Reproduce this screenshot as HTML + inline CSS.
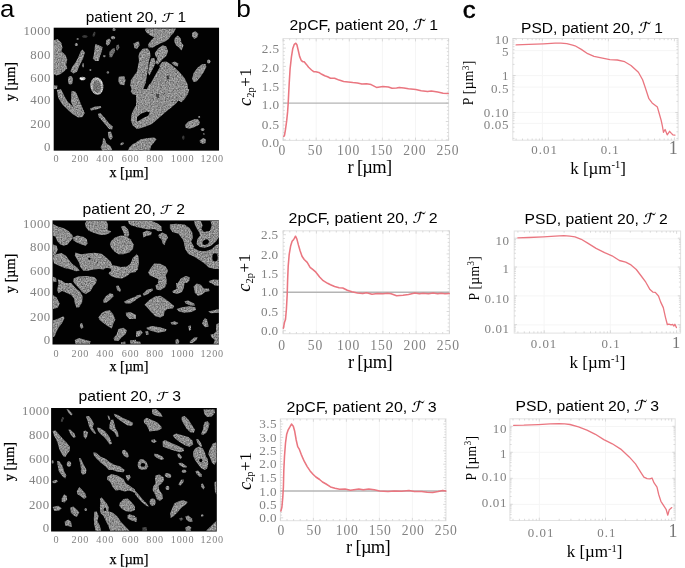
<!DOCTYPE html>
<html><head><meta charset="utf-8"><title>figure</title>
<style>html,body{margin:0;padding:0;background:#fff}svg{display:block}</style></head>
<body>
<svg width="685" height="568" viewBox="0 0 685 568">
<rect width="685" height="568" fill="#fff"/>
<text transform='translate(0.0,16.9) scale(1.1,1)' style='font-family:"Liberation Sans", Arial, sans-serif;font-size:23.5px;'>a</text>
<text transform='translate(236.3,17.4) scale(1.14,1)' style='font-family:"Liberation Sans", Arial, sans-serif;font-size:23.0px;'>b</text>
<text transform='translate(462.7,17.6) scale(1.06,1)' style='font-family:"Liberation Sans", Arial, sans-serif;font-size:24.2px;stroke:#000;stroke-width:0.55px;'>c</text>
<defs>
<filter id='sp' x='0' y='0' width='100%' height='100%' filterUnits='objectBoundingBox' color-interpolation-filters='sRGB'>
<feTurbulence type='fractalNoise' baseFrequency='0.75' numOctaves='2' seed='7' result='n'/>
<feColorMatrix in='n' type='matrix' values='1.0 1.0 0 0 -0.32  1.0 1.0 0 0 -0.32  1.0 1.0 0 0 -0.32  0 0 0 0 1' result='na'/>
<feGaussianBlur in='SourceGraphic' stdDeviation='0.6' result='b'/>
<feComposite in='b' in2='na' operator='arithmetic' k1='0.65' k2='0.35' k3='0' k4='0' result='c'/>
<feGaussianBlur in='c' stdDeviation='0.5'/>
</filter>
</defs>
<clipPath id='cl1'><rect x='53.7' y='27.7' width='165.35' height='122.95'/></clipPath>
<rect x='53.7' y='27.7' width='165.35' height='122.95' fill='#030303'/>
<g clip-path='url(#cl1)'><g filter='url(#sp)'><rect x='53.7' y='27.7' width='165.35' height='122.95' fill='#000' opacity='0.01'/>
<polygon points='54.0,40.3 57.6,39.1 61.3,42.8 62.5,47.6 61.3,51.2 65.5,54.9 67.3,59.7 66.1,64.6 67.3,68.2 63.7,71.8 60.1,74.3 56.4,75.5 54.0,74.3' fill='#b2b2b2'/><polygon points='82.5,49.4 84.9,52.4 83.1,58.5 79.4,65.8 77.0,71.8 73.4,73.6 70.4,71.2 72.2,67.0 75.8,62.1 78.8,56.1 80.7,51.2' fill='#b2b2b2'/><ellipse cx='76.4' cy='44.6' rx='1.5' ry='1.5' transform='rotate(0 76.4 44.6)' fill='#b2b2b2'/><ellipse cx='77.6' cy='39.1' rx='1.0' ry='1.0' transform='rotate(0 77.6 39.1)' fill='#b2b2b2'/><polygon points='95.2,44.0 98.8,45.2 102.5,47.0 101.9,51.2 100.0,56.1 98.8,60.9 95.2,60.9 92.8,58.5 94.0,53.7 94.6,48.8' fill='#b2b2b2'/><polygon points='106.1,40.3 109.1,38.5 110.9,40.3 109.7,44.0 107.3,45.8 105.9,44.0' fill='#b2b2b2'/><ellipse cx='113.0' cy='37.7' rx='2.2' ry='1.6' transform='rotate(0 113.0 37.7)' fill='#b2b2b2'/><polygon points='109.5,51.8 112.2,48.8 114.6,48.2 115.2,51.2 113.4,54.3 111.9,57.3 109.7,57.3 109.1,54.6' fill='#b2b2b2' opacity='0.8'/><polygon points='116.4,45.2 118.8,44.6 119.4,47.6 117.6,50.6 116.0,49.4' fill='#b2b2b2' opacity='0.7'/><ellipse cx='114.0' cy='29.4' rx='1.5' ry='1.5' transform='rotate(0 114.0 29.4)' fill='#b2b2b2'/><polygon points='133.4,43.4 137.0,42.1 137.0,48.8 134.6,48.2' fill='#b2b2b2'/><ellipse cx='70.4' cy='80.3' rx='2.4' ry='4.2' transform='rotate(0 70.4 80.3)' fill='#b2b2b2'/><ellipse cx='82.5' cy='78.5' rx='3.0' ry='1.8' transform='rotate(0 82.5 78.5)' fill='#fff'/><polygon points='118.8,76.7 124.3,76.1 125.5,80.3 124.3,85.2 120.0,84.6 118.2,80.9' fill='#b2b2b2'/><polygon points='137.0,71.8 134.0,75.5 130.9,80.3 130.3,85.2 131.5,89.0 137.0,89.0' fill='#b2b2b2'/><ellipse cx='104.3' cy='56.1' rx='1.2' ry='1.2' transform='rotate(0 104.3 56.1)' fill='#b2b2b2'/><ellipse cx='107.9' cy='72.4' rx='1.2' ry='1.2' transform='rotate(0 107.9 72.4)' fill='#b2b2b2'/><ellipse cx='90.4' cy='70.0' rx='1.0' ry='1.0' transform='rotate(0 90.4 70.0)' fill='#b2b2b2'/><ellipse cx='83.1' cy='65.2' rx='0.8' ry='2.2' transform='rotate(0 83.1 65.2)' fill='#b2b2b2'/><polygon points='54.0,85.2 57.6,85.8 57.0,89.0 54.0,89.0' fill='#b2b2b2'/><ellipse cx='84.9' cy='36.5' rx='2.7' ry='1.2' transform='rotate(0 84.9 36.5)' fill='#b2b2b2' opacity='0.45'/><ellipse cx='94.0' cy='34.3' rx='1.2' ry='2.7' transform='rotate(20 94.0 34.3)' fill='#b2b2b2' opacity='0.4'/><ellipse cx='96.9' cy='86.0' rx='6.5' ry='8.9' transform='rotate(-8 96.9 86.0)' fill='#e0e0e0'/><ellipse cx='96.9' cy='86.5' rx='4.1' ry='6.3' transform='rotate(-8 96.9 86.5)' fill='#909090'/><polygon points='145.7,28.5 176.0,28.5 173.6,33.1 171.1,35.5 168.7,39.1 165.1,41.5 160.2,43.4 156.6,45.2 153.0,47.6 148.7,47.6 148.1,44.6 151.1,40.3 154.2,37.3 150.5,35.5 146.9,33.1 145.1,30.6' fill='#b2b2b2'/><polygon points='136.0,42.1 139.0,41.5 139.6,45.2 137.2,48.8 136.0,48.8' fill='#b2b2b2'/><polygon points='139.6,52.4 142.7,48.8 147.5,48.2 149.9,51.2 150.5,56.1 148.7,62.1 148.1,68.2 146.9,75.5 145.7,82.7 143.3,89.0 136.0,89.0 137.2,80.3 136.6,73.0 137.8,67.0 139.0,60.9 138.4,56.1' fill='#b2b2b2'/><polygon points='154.8,53.1 158.4,48.2 162.7,45.2 166.3,46.4 168.1,51.2 166.3,56.1 162.7,59.1 159.6,62.7 156.6,65.8 155.4,63.4 157.2,58.5 155.4,56.1' fill='#b2b2b2'/><polygon points='151.1,58.5 154.2,57.9 155.6,62.1 154.2,67.0 151.8,71.8 149.3,75.5 148.1,73.0 148.7,67.0 149.9,62.1' fill='#b2b2b2'/><polygon points='162.1,62.1 166.3,61.5 171.1,64.6 176.0,68.8 180.8,73.6 184.5,77.9 187.5,83.9 188.1,89.0 146.9,89.0 149.3,83.9 153.0,77.9 155.4,73.0 158.4,67.0' fill='#b2b2b2'/><polygon points='171.4,62.7 174.8,61.5 178.4,63.4 177.8,66.4 174.8,65.8' fill='#b2b2b2'/><polygon points='174.8,37.9 177.8,35.5 180.8,38.5 181.4,42.8 183.5,45.2 182.6,48.2 181.4,50.6 179.0,47.6 176.0,45.2 174.2,41.5' fill='#b2b2b2'/><polygon points='192.3,32.5 195.4,31.2 198.4,33.7 197.2,37.3 194.2,38.9 192.0,36.1' fill='#b2b2b2'/><polygon points='193.6,73.0 197.8,67.6 202.0,64.3 205.7,64.0 206.3,67.0 203.9,71.8 200.2,77.3 196.6,81.5 193.6,82.1 192.0,79.1' fill='#b2b2b2'/><ellipse cx='208.7' cy='61.5' rx='1.7' ry='1.9' transform='rotate(0 208.7 61.5)' fill='#b2b2b2'/><polygon points='136.0,89.0 189.3,89.0 188.1,93.8 184.5,99.3 181.4,102.3 178.4,100.5 176.0,103.5 171.1,107.8 166.3,111.4 161.4,115.7 156.6,119.9 151.8,124.1 145.7,126.6 139.6,128.4 136.0,129.0' fill='#b2b2b2'/><polygon points='136.0,118.1 140.8,113.8 146.9,111.4 149.9,112.6 148.1,115.7 143.3,118.1 138.4,121.1 136.0,122.3' fill='#000'/><polygon points='185.1,124.7 188.1,121.7 194.2,119.3 197.8,119.0 200.0,122.3 199.0,124.7 194.2,127.2 189.3,128.7 185.7,127.8' fill='#b2b2b2'/><ellipse cx='199.2' cy='117.1' rx='1.0' ry='1.0' transform='rotate(0 199.2 117.1)' fill='#b2b2b2'/><ellipse cx='202.6' cy='129.6' rx='1.8' ry='1.5' transform='rotate(0 202.6 129.6)' fill='#b2b2b2'/><ellipse cx='203.9' cy='134.1' rx='1.0' ry='1.0' transform='rotate(0 203.9 134.1)' fill='#b2b2b2' opacity='0.6'/><polygon points='199.6,140.5 203.2,138.1 206.0,139.3 205.7,142.9 202.6,144.1 200.0,142.3' fill='#b2b2b2'/><ellipse cx='183.3' cy='137.7' rx='1.2' ry='2.1' transform='rotate(0 183.3 137.7)' fill='#b2b2b2' opacity='0.4'/><polygon points='136.0,142.3 140.8,139.3 148.1,138.1 154.2,137.5 156.6,139.3 154.2,142.3 151.1,145.9 149.9,150.7 136.0,150.7' fill='#b2b2b2'/><polygon points='58.2,90.8 61.3,90.2 63.1,93.8 62.5,97.5 60.7,95.7 58.8,93.2' fill='#b2b2b2'/><polygon points='60.7,97.5 64.3,98.7 69.1,102.9 72.8,106.6 78.2,111.4 84.0,113.6 82.8,116.9 78.2,117.5 72.8,114.2 68.3,110.2 64.7,106.0 61.5,101.7' fill='#b2b2b2'/><polygon points='71.6,90.8 75.6,91.7 77.6,98.7 79.7,103.5 82.5,108.4 84.3,113.0 80.7,112.6 76.4,107.8 73.1,102.6 71.6,96.3' fill='#b2b2b2'/><polygon points='90.1,108.4 95.2,106.6 100.6,106.0 101.3,107.8 96.4,109.6 91.0,110.6' fill='#b2b2b2'/><polygon points='97.9,113.8 100.6,113.2 104.9,118.1 109.1,123.5 112.8,126.6 112.2,129.6 109.1,129.0 105.5,124.7 101.9,120.5 98.8,116.9' fill='#b2b2b2'/><polygon points='107.9,132.0 110.9,131.4 112.8,136.9 110.9,139.9 108.5,137.5' fill='#b2b2b2'/><polygon points='103.1,138.1 104.9,138.7 106.1,142.9 110.3,145.9 112.2,149.6 110.9,151.0 102.5,151.0 100.6,147.2 102.5,143.5' fill='#b2b2b2'/><polygon points='137.0,104.1 134.0,108.4 131.5,114.4 130.9,120.5 132.8,125.4 137.0,129.0' fill='#b2b2b2'/><polygon points='131.5,89.0 137.0,89.0 137.0,95.1 132.8,94.5 130.9,91.4' fill='#b2b2b2'/><polygon points='137.0,142.3 132.8,144.1 129.1,147.8 127.9,151.0 137.0,151.0' fill='#b2b2b2'/><ellipse cx='122.1' cy='143.8' rx='1.9' ry='1.2' transform='rotate(-30 122.1 143.8)' fill='#b2b2b2'/><polygon points='155.9,63.2 160.1,66.8 155.2,75.2 150.3,83.7 146.8,85.8 148.2,79.4 151.7,71.0' fill='#000'/><polygon points='166.5,75.9 168.6,75.2 169.3,78.7 167.2,79.4' fill='#000' opacity='0.6'/><polygon points='155.9,94.2 158.7,93.5 159.4,97.7 156.9,98.5' fill='#000' opacity='0.5'/><polygon points='71.6,92.1 76.5,93.2 80.1,102.0 84.7,113.2 81.5,116.8 75.1,110.4 70.9,102.0' fill='#b2b2b2'/><polygon points='56.8,90.0 61.0,89.3 65.3,97.7 70.2,106.2 68.1,109.7 62.5,104.8 58.2,97.7' fill='#b2b2b2'/>
</g></g>
<text x='85.7' y='21.6' textLength='100.3' lengthAdjust='spacingAndGlyphs' style='font-family:"Liberation Sans", Arial, sans-serif;font-size:14.3px'>patient 20, <tspan style='font-family:"STIX Two Math", "Latin Modern Math", "DejaVu Math TeX Gyre", "Libertinus Math", "Noto Sans Math", "FreeSerif", "DejaVu Serif", "Liberation Serif", serif;font-size:14.6px'>𝒯</tspan> 1</text>
<text x='51.00' y='34.80' text-anchor='end' fill='#828282' style='font-family:"Liberation Serif", "DejaVu Serif", serif;font-size:12.8px;letter-spacing:0.5px;' >1000</text>
<text x='51.00' y='58.70' text-anchor='end' fill='#828282' style='font-family:"Liberation Serif", "DejaVu Serif", serif;font-size:12.8px;letter-spacing:0.5px;' >800</text>
<text x='51.00' y='82.20' text-anchor='end' fill='#828282' style='font-family:"Liberation Serif", "DejaVu Serif", serif;font-size:12.8px;letter-spacing:0.5px;' >600</text>
<text x='51.00' y='103.60' text-anchor='end' fill='#828282' style='font-family:"Liberation Serif", "DejaVu Serif", serif;font-size:12.8px;letter-spacing:0.5px;' >400</text>
<text x='51.00' y='128.30' text-anchor='end' fill='#828282' style='font-family:"Liberation Serif", "DejaVu Serif", serif;font-size:12.8px;letter-spacing:0.5px;' >200</text>
<text x='51.00' y='151.20' text-anchor='end' fill='#828282' style='font-family:"Liberation Serif", "DejaVu Serif", serif;font-size:12.8px;letter-spacing:0.5px;' >0</text>
<text x='56.50' y='162.40' text-anchor='middle' fill='#828282' style='font-family:"Liberation Serif", "DejaVu Serif", serif;font-size:10.2px;letter-spacing:0.8px;' >0</text>
<text x='80.40' y='162.40' text-anchor='middle' fill='#828282' style='font-family:"Liberation Serif", "DejaVu Serif", serif;font-size:10.2px;letter-spacing:0.8px;' >200</text>
<text x='105.20' y='162.40' text-anchor='middle' fill='#828282' style='font-family:"Liberation Serif", "DejaVu Serif", serif;font-size:10.2px;letter-spacing:0.8px;' >400</text>
<text x='130.60' y='162.40' text-anchor='middle' fill='#828282' style='font-family:"Liberation Serif", "DejaVu Serif", serif;font-size:10.2px;letter-spacing:0.8px;' >600</text>
<text x='155.10' y='162.40' text-anchor='middle' fill='#828282' style='font-family:"Liberation Serif", "DejaVu Serif", serif;font-size:10.2px;letter-spacing:0.8px;' >800</text>
<text x='182.60' y='162.40' text-anchor='middle' fill='#828282' style='font-family:"Liberation Serif", "DejaVu Serif", serif;font-size:10.2px;letter-spacing:0.8px;' >1000</text>
<text x='212.20' y='162.40' text-anchor='middle' fill='#828282' style='font-family:"Liberation Serif", "DejaVu Serif", serif;font-size:10.2px;letter-spacing:0.8px;' >1200</text>
<text x='129.00' y='176.60' text-anchor='middle' fill='#000' style='font-family:"Liberation Serif", "DejaVu Serif", serif;font-size:14.1px;' stroke='#000' stroke-width='0.25'>x [µm]</text>
<text transform='translate(15.100000000000001,81.6) rotate(-90)' text-anchor='middle' style='font-family:"Liberation Serif", "DejaVu Serif", serif;font-size:14.1px' stroke='#000' stroke-width='0.25'>y [µm]</text>
<clipPath id='cl2'><rect x='52.5' y='220.4' width='166.40' height='124.10'/></clipPath>
<rect x='52.5' y='220.4' width='166.40' height='124.10' fill='#030303'/>
<g clip-path='url(#cl2)'><g filter='url(#sp)'><rect x='52.5' y='220.4' width='166.40' height='124.10' fill='#000' opacity='0.01'/>
<polygon points='53.0,224.0 57.8,226.5 63.9,228.3 68.8,231.3 72.4,234.9 73.0,238.0 70.0,241.6 67.5,244.6 63.9,245.8 60.3,244.6 57.2,241.0 55.4,236.8 53.0,235.5' fill='#b2b2b2'/><polygon points='73.0,237.4 77.2,235.5 83.3,236.8 86.9,239.2 87.5,243.4 85.7,245.8 81.5,244.6 77.2,242.8 73.6,240.4' fill='#b2b2b2'/><polygon points='86.3,221.0 106.3,221.0 108.1,224.6 107.5,230.1 111.2,231.3 109.9,233.1 105.1,234.9 100.3,234.9 94.2,233.1 88.7,230.7 85.7,227.1 85.1,223.4' fill='#b2b2b2'/><polygon points='111.2,241.0 114.8,237.4 120.9,235.5 125.7,236.1 130.5,239.2 133.6,244.6 133.0,248.9 129.3,252.5 123.3,254.3 118.4,254.3 114.2,251.3 111.2,247.7 109.9,244.0' fill='#b2b2b2'/><polygon points='120.9,226.5 124.5,225.8 128.1,229.5 129.3,234.3 128.1,236.8 124.5,236.1 123.3,231.9' fill='#b2b2b2'/><polygon points='128.1,221.0 136.0,221.0 136.0,226.5 131.8,225.8 128.7,223.4' fill='#b2b2b2'/><polygon points='53.0,244.6 56.6,245.8 57.8,249.5 56.0,253.7 53.0,255.5' fill='#b2b2b2'/><polygon points='55.4,254.3 61.5,253.1 66.3,256.1 68.8,259.8 72.4,264.0 77.2,267.6 79.7,270.7 76.0,271.3 71.2,269.5 65.1,268.3 59.1,265.8 54.2,263.4 53.0,259.8 53.0,256.1' fill='#b2b2b2'/><polygon points='75.4,252.5 80.9,254.3 86.9,253.5 94.2,252.7 101.5,253.7 106.3,257.4 110.6,261.6 112.4,265.2 116.0,265.8 120.9,267.0 126.9,266.4 130.5,263.4 133.0,257.4 136.0,254.9 136.0,271.9 130.5,273.1 126.9,276.1 122.1,278.6 116.0,277.9 111.2,276.1 108.7,273.7 109.9,270.1 106.3,268.3 103.9,269.5 99.0,268.9 93.0,269.5 88.1,270.7 83.3,270.7 80.3,267.0 79.1,262.8 76.6,258.6 74.8,255.5' fill='#b2b2b2'/><ellipse cx='107.5' cy='270.1' rx='3.6' ry='2.2' transform='rotate(0 107.5 270.1)' fill='#000'/><ellipse cx='89.4' cy='258.8' rx='1.2' ry='1.0' transform='rotate(0 89.4 258.8)' fill='#000'/><polygon points='73.6,278.6 78.4,276.5 86.9,276.1 94.2,277.0 96.9,279.8 96.0,283.0 74.2,283.0 73.0,281.0' fill='#b2b2b2'/><polygon points='57.8,279.2 61.5,280.4 65.1,283.0 58.5,283.0' fill='#b2b2b2'/><polygon points='53.0,276.7 56.0,277.9 56.6,281.6 53.0,282.2' fill='#b2b2b2'/><polygon points='136.0,221.0 151.8,221.0 157.8,223.4 161.4,226.5 162.1,230.7 158.4,231.3 154.2,228.9 148.1,229.5 142.1,228.3 136.0,227.1' fill='#b2b2b2'/><polygon points='142.7,232.5 146.9,230.5 151.8,231.9 151.1,234.9 146.3,236.1 143.3,237.4' fill='#b2b2b2'/><polygon points='158.4,234.9 162.1,232.5 166.3,234.3 168.1,237.4 165.7,241.6 164.5,245.2 162.7,243.4 161.4,239.2 159.0,237.4' fill='#b2b2b2'/><polygon points='169.9,224.6 176.0,223.7 184.5,224.6 189.3,227.7 192.3,232.5 192.9,238.0 191.1,241.6 188.1,245.2 185.1,245.2 182.6,239.2 178.4,233.7 172.4,231.9 169.9,228.3' fill='#b2b2b2'/><polygon points='194.2,221.0 200.8,221.0 202.6,225.2 201.4,228.9 203.9,231.9 209.9,230.7 211.7,225.8 210.5,221.0 219.0,221.0 219.0,236.8 216.0,241.6 211.1,245.8 205.1,247.7 199.6,247.1 196.6,244.0 197.2,239.2 200.2,235.5 199.0,231.9 196.6,228.3 194.8,224.6' fill='#b2b2b2'/><polygon points='183.9,242.8 191.1,241.6 194.2,247.1 189.3,250.7 185.4,250.1' fill='#b2b2b2'/><ellipse cx='205.7' cy='242.2' rx='3.4' ry='2.4' transform='rotate(-30 205.7 242.2)' fill='#000'/><polygon points='185.7,249.5 189.3,247.1 194.2,248.3 199.0,250.7 205.1,251.3 211.1,249.5 216.0,245.2 219.0,244.0 219.0,268.9 214.8,268.9 208.7,267.6 205.1,264.0 200.2,260.4 194.2,256.7 188.1,253.7' fill='#b2b2b2'/><ellipse cx='215.0' cy='257.4' rx='2.7' ry='4.1' transform='rotate(0 215.0 257.4)' fill='#000'/><polygon points='136.0,253.7 138.4,256.1 139.0,262.2 137.8,269.5 136.0,271.3' fill='#b2b2b2'/><polygon points='154.2,263.4 160.2,263.7 165.7,266.4 168.1,270.7 165.7,275.5 166.9,280.4 166.3,283.0 157.8,283.0 158.4,279.2 154.2,277.3 149.9,275.5 148.1,272.5 150.5,268.3' fill='#b2b2b2'/><polygon points='177.8,283.0 180.8,278.6 185.7,276.1 189.9,277.3 189.3,280.4 186.9,283.0' fill='#b2b2b2'/><polygon points='208.7,281.0 213.5,279.4 219.0,279.8 219.0,283.0 209.9,283.0' fill='#b2b2b2'/><polygon points='58.5,283.0 71.2,283.0 75.4,287.8 80.3,292.1 82.7,296.3 82.1,302.4 79.1,307.2 76.6,307.8 74.8,303.6 74.2,298.8 71.2,295.1 66.3,292.7 62.1,290.9 58.5,293.3 57.2,290.3' fill='#b2b2b2'/><polygon points='74.2,283.0 96.0,283.0 93.0,286.6 90.6,290.9 85.7,293.9 82.1,292.1 79.1,288.5' fill='#b2b2b2'/><polygon points='53.0,295.1 56.6,297.5 59.7,303.6 57.8,307.8 53.0,309.1' fill='#b2b2b2'/><polygon points='53.0,320.6 57.8,318.7 63.3,316.3 64.5,318.1 62.1,323.0 58.5,327.8 56.0,332.7 54.8,336.3 53.0,336.9' fill='#b2b2b2'/><polygon points='80.3,323.6 82.1,323.0 83.5,327.2 81.5,329.0 79.9,326.6' fill='#b2b2b2'/><polygon points='103.3,300.0 105.7,296.3 109.9,293.3 113.0,293.9 113.6,296.3 109.9,300.0 105.7,303.0 103.3,302.4' fill='#b2b2b2'/><polygon points='116.0,286.0 118.4,285.4 120.9,289.7 120.2,292.1 117.2,290.3' fill='#b2b2b2'/><polygon points='123.9,301.8 128.1,299.4 136.0,296.3 136.0,300.0 130.5,303.6 125.7,303.4' fill='#b2b2b2'/><polygon points='98.4,317.5 101.5,313.3 105.1,310.9 109.9,310.3 113.0,313.9 115.4,319.4 113.6,323.0 111.8,328.4 107.5,326.0 102.7,322.4 99.6,320.0' fill='#b2b2b2'/><polygon points='125.7,312.7 130.5,312.1 136.0,315.1 136.0,318.7 129.3,319.1 126.3,315.7' fill='#b2b2b2'/><polygon points='118.4,329.0 123.3,327.8 126.9,330.3 125.7,333.9 121.5,337.5 118.4,340.9 114.2,340.6 113.6,338.1 116.6,334.5' fill='#b2b2b2'/><polygon points='74.8,339.9 79.1,338.1 85.7,339.9 90.6,341.2 90.0,343.7 75.4,343.7' fill='#b2b2b2'/><polygon points='129.9,340.6 136.0,339.7 136.0,343.7 130.5,343.7' fill='#b2b2b2'/><polygon points='120.9,342.4 125.1,341.5 125.7,343.7 121.1,343.7' fill='#b2b2b2'/><polygon points='136.0,295.7 140.2,294.5 141.5,296.3 136.0,299.4' fill='#b2b2b2'/><polygon points='142.7,293.9 146.9,289.7 152.4,288.5 153.0,290.3 148.1,293.9 143.9,295.7' fill='#b2b2b2'/><polygon points='155.4,285.4 159.0,283.0 166.9,283.0 165.1,287.2 160.2,290.3 156.6,289.7' fill='#b2b2b2'/><polygon points='176.0,283.0 184.5,283.0 183.9,287.8 182.0,292.1 177.2,293.9 173.0,292.7 172.4,290.9 176.6,289.1' fill='#b2b2b2'/><polygon points='193.6,286.6 196.6,283.6 200.8,284.8 203.9,288.5 208.7,288.5 209.9,290.9 205.1,292.1 201.4,295.1 197.8,295.7 194.8,292.7' fill='#b2b2b2'/><polygon points='211.1,283.0 219.0,283.0 219.0,286.0 214.8,285.4' fill='#b2b2b2'/><polygon points='144.5,304.8 149.3,300.0 155.4,296.3 160.2,295.7 165.1,298.8 169.9,302.4 174.2,306.0 173.0,308.4 167.5,309.1 164.5,311.5 163.9,315.7 160.2,317.5 155.4,316.3 151.8,312.7 148.1,308.4' fill='#b2b2b2'/><polygon points='184.5,301.2 188.1,300.6 194.2,303.6 194.8,305.8 190.5,305.4 185.7,303.6' fill='#b2b2b2'/><polygon points='176.6,309.1 182.0,307.2 189.3,306.3 195.4,307.2 196.0,309.7 191.7,312.1 184.5,312.7 179.0,311.5' fill='#b2b2b2'/><polygon points='208.1,311.5 213.5,310.3 219.0,309.1 219.0,312.7 211.1,313.3' fill='#b2b2b2'/><polygon points='170.5,322.4 174.8,321.2 178.4,323.0 176.0,324.8 171.7,324.4' fill='#b2b2b2'/><polygon points='205.1,318.1 206.9,319.4 208.7,326.6 205.1,327.2 202.0,323.6 203.2,320.6' fill='#b2b2b2'/><polygon points='146.3,327.8 151.8,326.0 160.2,327.2 166.9,329.6 165.1,331.5 157.8,332.7 151.8,330.9 147.5,329.6' fill='#b2b2b2'/><polygon points='136.0,331.5 140.8,330.3 142.7,332.7 139.6,336.3 136.0,336.9' fill='#b2b2b2'/><polygon points='145.1,331.5 148.1,330.9 148.7,334.5 146.3,335.1' fill='#b2b2b2'/><polygon points='188.3,326.0 190.8,325.4 191.1,329.6 189.1,330.9' fill='#b2b2b2'/><polygon points='189.9,341.2 194.2,337.5 197.6,337.3 196.6,339.9 192.3,343.0 189.9,343.0' fill='#b2b2b2'/><polygon points='175.4,339.9 177.8,338.7 179.4,341.2 178.4,343.7 175.7,343.7' fill='#b2b2b2'/><polygon points='216.0,324.2 219.0,323.0 219.0,343.7 213.5,343.7 214.8,339.9 211.7,337.5 210.5,334.5 213.5,333.9 216.0,331.5' fill='#b2b2b2'/><polygon points='136.0,341.2 140.2,341.8 140.8,343.7 136.0,343.7' fill='#b2b2b2'/>
</g></g>
<text x='82.6' y='213.9' textLength='102.3' lengthAdjust='spacingAndGlyphs' style='font-family:"Liberation Sans", Arial, sans-serif;font-size:14.3px'>patient 20, <tspan style='font-family:"STIX Two Math", "Latin Modern Math", "DejaVu Math TeX Gyre", "Libertinus Math", "Noto Sans Math", "FreeSerif", "DejaVu Serif", "Liberation Serif", serif;font-size:14.6px'>𝒯</tspan> 2</text>
<text x='50.70' y='227.50' text-anchor='end' fill='#828282' style='font-family:"Liberation Serif", "DejaVu Serif", serif;font-size:12.8px;letter-spacing:0.5px;' >1000</text>
<text x='50.70' y='251.40' text-anchor='end' fill='#828282' style='font-family:"Liberation Serif", "DejaVu Serif", serif;font-size:12.8px;letter-spacing:0.5px;' >800</text>
<text x='50.70' y='274.90' text-anchor='end' fill='#828282' style='font-family:"Liberation Serif", "DejaVu Serif", serif;font-size:12.8px;letter-spacing:0.5px;' >600</text>
<text x='50.70' y='296.30' text-anchor='end' fill='#828282' style='font-family:"Liberation Serif", "DejaVu Serif", serif;font-size:12.8px;letter-spacing:0.5px;' >400</text>
<text x='50.70' y='321.00' text-anchor='end' fill='#828282' style='font-family:"Liberation Serif", "DejaVu Serif", serif;font-size:12.8px;letter-spacing:0.5px;' >200</text>
<text x='50.70' y='343.90' text-anchor='end' fill='#828282' style='font-family:"Liberation Serif", "DejaVu Serif", serif;font-size:12.8px;letter-spacing:0.5px;' >0</text>
<text x='56.50' y='356.50' text-anchor='middle' fill='#828282' style='font-family:"Liberation Serif", "DejaVu Serif", serif;font-size:10.2px;letter-spacing:0.8px;' >0</text>
<text x='80.40' y='356.50' text-anchor='middle' fill='#828282' style='font-family:"Liberation Serif", "DejaVu Serif", serif;font-size:10.2px;letter-spacing:0.8px;' >200</text>
<text x='105.20' y='356.50' text-anchor='middle' fill='#828282' style='font-family:"Liberation Serif", "DejaVu Serif", serif;font-size:10.2px;letter-spacing:0.8px;' >400</text>
<text x='130.60' y='356.50' text-anchor='middle' fill='#828282' style='font-family:"Liberation Serif", "DejaVu Serif", serif;font-size:10.2px;letter-spacing:0.8px;' >600</text>
<text x='155.10' y='356.50' text-anchor='middle' fill='#828282' style='font-family:"Liberation Serif", "DejaVu Serif", serif;font-size:10.2px;letter-spacing:0.8px;' >800</text>
<text x='182.60' y='356.50' text-anchor='middle' fill='#828282' style='font-family:"Liberation Serif", "DejaVu Serif", serif;font-size:10.2px;letter-spacing:0.8px;' >1000</text>
<text x='212.20' y='356.50' text-anchor='middle' fill='#828282' style='font-family:"Liberation Serif", "DejaVu Serif", serif;font-size:10.2px;letter-spacing:0.8px;' >1200</text>
<text x='129.00' y='370.70' text-anchor='middle' fill='#000' style='font-family:"Liberation Serif", "DejaVu Serif", serif;font-size:14.1px;' stroke='#000' stroke-width='0.25'>x [µm]</text>
<text transform='translate(15.100000000000001,273.4) rotate(-90)' text-anchor='middle' style='font-family:"Liberation Serif", "DejaVu Serif", serif;font-size:14.1px' stroke='#000' stroke-width='0.25'>y [µm]</text>
<clipPath id='cl3'><rect x='51.1' y='408.0' width='165.70' height='123.50'/></clipPath>
<rect x='51.1' y='408.0' width='165.70' height='123.50' fill='#030303'/>
<g clip-path='url(#cl3)'><g filter='url(#sp)'><rect x='51.1' y='408.0' width='165.70' height='123.50' fill='#000' opacity='0.01'/>
<polygon points='66.5,409.2 68.4,409.5 72.6,414.1 71.4,415.5 69.0,413.5' fill='#b2b2b2'/><polygon points='62.3,417.1 64.1,417.7 62.3,421.9 60.7,421.3' fill='#b2b2b2' opacity='0.5'/><polygon points='52.6,431.0 55.6,430.4 58.7,434.1 62.3,438.3 66.5,442.5 69.9,446.8 69.6,451.0 67.1,454.0 65.3,457.1 63.5,456.5 61.1,452.8 59.3,449.2 58.1,444.4 56.2,439.5 53.8,435.3' fill='#b2b2b2'/><polygon points='68.4,429.8 70.2,429.6 74.4,433.4 75.6,437.1 73.8,438.0 70.8,434.7' fill='#b2b2b2'/><polygon points='83.3,431.6 85.3,430.4 88.1,432.2 87.1,436.5 85.7,438.9 83.7,436.5' fill='#b2b2b2'/><polygon points='85.9,416.5 89.0,415.9 92.0,420.1 93.8,423.8 92.6,427.4 94.4,430.4 96.2,433.4 94.4,433.7 91.4,430.4 89.0,426.2 87.7,421.3' fill='#b2b2b2'/><polygon points='97.1,427.4 99.9,428.0 105.3,431.6 108.9,435.9 110.8,440.1 112.0,443.7 109.6,444.4 107.1,440.7 104.1,437.1 100.5,434.1 98.0,431.0' fill='#b2b2b2'/><polygon points='107.5,415.5 109.2,415.9 110.4,419.5 108.9,420.1' fill='#b2b2b2'/><polygon points='110.8,420.1 113.2,419.5 114.4,423.8 115.6,428.6 118.0,432.2 118.6,436.8 116.8,437.1 114.4,432.2 112.0,430.4 109.2,428.6 109.6,424.4' fill='#b2b2b2'/><polygon points='113.8,413.8 117.4,414.7 123.5,418.3 129.5,420.7 133.2,423.1 132.0,425.9 127.7,425.6 122.9,422.5 118.0,418.9 115.0,416.5' fill='#b2b2b2'/><polygon points='122.3,450.4 124.7,449.8 127.7,452.8 128.9,456.5 127.1,457.7 124.1,455.9 122.0,452.8' fill='#b2b2b2'/><polygon points='93.2,452.6 96.2,452.8 100.5,456.5 105.9,458.9 110.2,462.5 115.0,464.9 119.9,466.2 124.7,470.0 108.9,470.0 105.3,466.2 100.5,462.5 96.8,458.9 93.8,455.3' fill='#b2b2b2'/><polygon points='78.9,457.9 80.8,458.3 82.9,463.1 85.3,467.4 86.5,470.0 81.1,470.0 80.5,464.9' fill='#b2b2b2'/><polygon points='57.1,461.1 59.3,461.3 62.3,465.6 63.9,470.0 58.7,470.0 57.5,464.9' fill='#b2b2b2'/><ellipse cx='69.0' cy='464.0' rx='2.2' ry='2.7' transform='rotate(0 69.0 464.0)' fill='#b2b2b2'/><ellipse cx='52.6' cy='461.9' rx='1.0' ry='1.7' transform='rotate(0 52.6 461.9)' fill='#b2b2b2'/><polygon points='152.0,409.2 156.2,409.0 161.1,413.5 162.6,416.7 159.8,416.5 155.0,415.5 152.0,413.5' fill='#b2b2b2'/><polygon points='143.7,420.1 146.5,417.7 152.0,420.1 157.4,422.5 161.1,426.2 161.9,428.6 158.0,430.4 153.2,431.0 149.5,431.6 148.3,428.6 146.5,425.0 144.1,423.1' fill='#b2b2b2'/><polygon points='181.6,417.1 184.7,415.9 188.3,419.5 191.9,425.0 195.0,429.8 193.8,432.8 190.1,432.2 186.5,428.6 183.5,423.8 181.6,420.1' fill='#b2b2b2'/><polygon points='203.5,409.5 214.4,409.2 215.0,412.8 211.9,416.5 207.1,417.1 204.3,414.1' fill='#b2b2b2'/><polygon points='204.7,421.9 207.7,421.3 209.5,423.8 208.3,428.6 206.5,432.8 202.9,434.9 201.0,434.1 202.9,429.8 203.5,425.6' fill='#b2b2b2'/><polygon points='172.8,435.3 176.2,433.4 182.3,435.3 188.3,437.1 192.6,440.7 193.2,444.4 189.5,446.8 185.3,445.6 180.4,442.5 176.2,439.5 173.8,437.1' fill='#b2b2b2'/><polygon points='162.6,441.3 165.3,440.1 171.4,443.1 177.4,445.6 183.5,448.6 184.1,451.0 179.8,452.2 173.8,450.4 167.7,448.6 162.9,446.8' fill='#b2b2b2'/><polygon points='151.0,440.1 154.4,439.3 156.8,441.3 154.4,442.9 151.7,441.9' fill='#b2b2b2'/><polygon points='154.1,453.8 157.4,454.0 162.3,456.5 164.1,458.9 161.1,459.9 156.8,457.7 154.4,455.9' fill='#b2b2b2'/><polygon points='177.2,454.0 179.2,453.4 182.0,457.1 180.8,458.9 178.0,457.1' fill='#b2b2b2'/><polygon points='178.4,463.1 181.6,462.8 186.5,465.9 186.9,467.6 183.5,467.4 179.8,465.6' fill='#b2b2b2'/><polygon points='138.0,462.5 139.8,459.5 142.9,458.9 146.5,461.9 148.1,466.2 146.5,469.2 142.3,470.0 138.6,468.6 137.7,465.6' fill='#b2b2b2'/><ellipse cx='142.9' cy='464.9' rx='2.4' ry='1.9' transform='rotate(0 142.9 464.9)' fill='#000'/><polygon points='196.2,439.3 198.0,438.9 201.0,443.1 202.2,446.5 200.4,446.8 197.4,443.1' fill='#b2b2b2'/><polygon points='193.2,451.6 195.6,448.0 199.2,446.5 202.9,448.6 205.0,452.8 205.9,456.5 207.7,458.9 208.3,463.7 207.1,468.6 204.7,470.0 201.0,468.0 198.0,464.3 195.0,460.1 193.2,455.9' fill='#b2b2b2'/><ellipse cx='200.8' cy='460.3' rx='1.5' ry='1.9' transform='rotate(0 200.8 460.3)' fill='#000'/><polygon points='212.5,443.7 215.6,442.5 216.5,443.1 216.5,461.3 214.4,464.9 211.9,462.5 210.1,457.7 208.3,454.0 209.5,449.8 211.3,446.8' fill='#b2b2b2'/><polygon points='58.3,470.0 63.5,470.0 66.3,475.5 65.3,478.5 62.9,476.7 59.9,473.0' fill='#b2b2b2'/><polygon points='80.8,470.0 86.5,470.0 85.9,473.6 82.9,474.8 81.1,473.0' fill='#b2b2b2'/><polygon points='52.6,480.9 56.2,479.7 58.1,481.5 55.0,483.3 52.6,483.1' fill='#b2b2b2'/><polygon points='76.8,491.2 79.3,487.0 82.3,490.0 85.3,493.6 86.5,497.3 84.1,499.1 80.5,496.1 77.4,494.2' fill='#b2b2b2'/><polygon points='61.7,498.5 64.1,494.2 66.8,496.1 67.1,499.7 64.7,502.5 61.7,501.7' fill='#b2b2b2'/><polygon points='52.6,507.0 58.1,505.7 61.7,508.2 59.3,510.6 54.4,511.0' fill='#b2b2b2'/><polygon points='70.4,507.6 73.2,506.4 76.8,509.4 79.3,512.4 76.8,517.0 73.8,515.4 70.8,512.4' fill='#b2b2b2'/><polygon points='64.7,521.5 68.4,519.4 71.1,522.1 72.0,526.9 69.0,526.3 65.1,525.7' fill='#b2b2b2'/><ellipse cx='85.7' cy='509.5' rx='1.2' ry='1.5' transform='rotate(0 85.7 509.5)' fill='#b2b2b2'/><polygon points='107.1,476.7 111.4,473.9 117.4,475.5 123.5,479.1 125.9,483.3 130.8,486.4 135.0,489.4 135.0,493.0 129.5,490.6 124.7,491.6 119.9,490.0 115.6,490.6 112.6,487.0 110.2,482.1 107.1,479.7' fill='#b2b2b2'/><polygon points='112.6,470.0 124.7,470.0 123.5,472.2 117.4,471.8' fill='#b2b2b2'/><polygon points='125.7,475.5 129.5,474.8 130.8,477.3 128.1,480.9 126.5,478.5' fill='#b2b2b2'/><polygon points='119.9,502.7 123.5,499.1 127.7,498.5 131.4,502.1 135.0,506.4 135.0,510.0 130.8,511.8 125.9,511.2 121.7,508.8 119.2,505.7' fill='#b2b2b2'/><polygon points='127.4,515.4 129.5,514.2 135.0,516.0 135.0,521.5 130.8,520.3 127.7,518.5' fill='#b2b2b2'/><polygon points='99.9,498.5 101.7,497.6 104.1,500.3 107.1,503.9 108.9,507.6 108.3,511.2 112.6,512.4 117.4,516.6 121.1,522.1 125.9,526.9 129.5,530.8 110.2,530.8 108.3,525.7 105.9,520.9 103.5,516.0 100.5,513.0 99.9,507.6 100.5,502.7' fill='#b2b2b2'/><ellipse cx='105.0' cy='509.4' rx='1.2' ry='1.7' transform='rotate(0 105.0 509.4)' fill='#000'/><polygon points='94.4,511.8 96.8,511.4 98.6,516.0 97.4,520.9 99.9,525.7 101.1,530.8 95.6,530.8 94.2,524.5 93.8,518.5' fill='#b2b2b2'/><polygon points='135.0,490.6 137.4,493.0 142.3,499.1 147.1,503.9 148.9,506.4 146.5,506.1 141.7,502.1 137.4,497.3 135.0,494.2' fill='#b2b2b2'/><polygon points='155.6,475.5 159.2,474.6 163.5,477.3 164.1,480.3 161.1,483.9 158.6,485.8 159.2,490.0 162.3,494.2 162.9,498.5 159.8,500.9 156.8,499.1 155.0,494.2 152.6,490.0 153.2,486.4 155.6,483.3 155.0,479.1' fill='#b2b2b2'/><ellipse cx='168.0' cy='475.5' rx='3.3' ry='2.2' transform='rotate(20 168.0 475.5)' fill='#b2b2b2'/><ellipse cx='167.5' cy='487.9' rx='1.9' ry='2.2' transform='rotate(0 167.5 487.9)' fill='#b2b2b2'/><ellipse cx='152.6' cy='502.1' rx='3.0' ry='3.6' transform='rotate(0 152.6 502.1)' fill='#b2b2b2'/><polygon points='178.4,484.5 181.0,479.7 183.7,479.5 183.5,482.1 180.4,485.8' fill='#b2b2b2'/><ellipse cx='184.1' cy='471.2' rx='2.2' ry='1.7' transform='rotate(0 184.1 471.2)' fill='#b2b2b2'/><polygon points='195.3,471.2 198.0,470.6 201.6,474.2 201.9,476.7 199.8,477.0 196.8,474.2' fill='#b2b2b2'/><polygon points='201.0,483.9 202.9,483.6 204.7,487.6 203.5,489.4 201.4,487.0' fill='#b2b2b2'/><polygon points='214.4,482.1 216.5,481.5 216.5,494.8 215.0,491.8' fill='#b2b2b2'/><polygon points='174.4,503.3 179.2,500.9 183.5,500.3 187.7,502.1 185.9,504.5 181.6,507.6 178.0,511.8 173.8,516.0 170.7,517.9 170.1,513.6 172.0,508.8' fill='#b2b2b2'/><polygon points='185.3,516.6 188.3,515.4 191.9,518.5 192.6,521.5 189.5,521.9 186.5,519.7' fill='#b2b2b2'/><polygon points='178.9,518.5 181.6,517.5 183.5,519.1 181.0,520.9' fill='#b2b2b2' opacity='0.6'/><polygon points='185.3,527.6 188.9,525.7 191.3,527.6 190.7,530.8 185.9,530.8' fill='#b2b2b2'/><polygon points='216.5,520.9 216.5,530.8 205.9,530.8 210.1,526.9 213.8,523.3' fill='#b2b2b2'/><ellipse cx='135.8' cy='519.4' rx='1.0' ry='2.7' transform='rotate(0 135.8 519.4)' fill='#b2b2b2'/><ellipse cx='202.2' cy='515.4' rx='1.2' ry='1.2' transform='rotate(0 202.2 515.4)' fill='#b2b2b2'/><polygon points='142.3,527.6 146.5,526.9 147.1,530.8 142.5,530.8' fill='#b2b2b2' opacity='0.5'/>
</g></g>
<text x='78.6' y='401.4' textLength='102.4' lengthAdjust='spacingAndGlyphs' style='font-family:"Liberation Sans", Arial, sans-serif;font-size:14.3px'>patient 20, <tspan style='font-family:"STIX Two Math", "Latin Modern Math", "DejaVu Math TeX Gyre", "Libertinus Math", "Noto Sans Math", "FreeSerif", "DejaVu Serif", "Liberation Serif", serif;font-size:14.6px'>𝒯</tspan> 3</text>
<text x='49.60' y='415.10' text-anchor='end' fill='#828282' style='font-family:"Liberation Serif", "DejaVu Serif", serif;font-size:12.8px;letter-spacing:0.5px;' >1000</text>
<text x='49.60' y='439.00' text-anchor='end' fill='#828282' style='font-family:"Liberation Serif", "DejaVu Serif", serif;font-size:12.8px;letter-spacing:0.5px;' >800</text>
<text x='49.60' y='462.50' text-anchor='end' fill='#828282' style='font-family:"Liberation Serif", "DejaVu Serif", serif;font-size:12.8px;letter-spacing:0.5px;' >600</text>
<text x='49.60' y='483.90' text-anchor='end' fill='#828282' style='font-family:"Liberation Serif", "DejaVu Serif", serif;font-size:12.8px;letter-spacing:0.5px;' >400</text>
<text x='49.60' y='508.60' text-anchor='end' fill='#828282' style='font-family:"Liberation Serif", "DejaVu Serif", serif;font-size:12.8px;letter-spacing:0.5px;' >200</text>
<text x='49.60' y='531.50' text-anchor='end' fill='#828282' style='font-family:"Liberation Serif", "DejaVu Serif", serif;font-size:12.8px;letter-spacing:0.5px;' >0</text>
<text x='56.50' y='542.90' text-anchor='middle' fill='#828282' style='font-family:"Liberation Serif", "DejaVu Serif", serif;font-size:10.2px;letter-spacing:0.8px;' >0</text>
<text x='80.40' y='542.90' text-anchor='middle' fill='#828282' style='font-family:"Liberation Serif", "DejaVu Serif", serif;font-size:10.2px;letter-spacing:0.8px;' >200</text>
<text x='105.20' y='542.90' text-anchor='middle' fill='#828282' style='font-family:"Liberation Serif", "DejaVu Serif", serif;font-size:10.2px;letter-spacing:0.8px;' >400</text>
<text x='130.60' y='542.90' text-anchor='middle' fill='#828282' style='font-family:"Liberation Serif", "DejaVu Serif", serif;font-size:10.2px;letter-spacing:0.8px;' >600</text>
<text x='155.10' y='542.90' text-anchor='middle' fill='#828282' style='font-family:"Liberation Serif", "DejaVu Serif", serif;font-size:10.2px;letter-spacing:0.8px;' >800</text>
<text x='182.60' y='542.90' text-anchor='middle' fill='#828282' style='font-family:"Liberation Serif", "DejaVu Serif", serif;font-size:10.2px;letter-spacing:0.8px;' >1000</text>
<text x='212.20' y='542.90' text-anchor='middle' fill='#828282' style='font-family:"Liberation Serif", "DejaVu Serif", serif;font-size:10.2px;letter-spacing:0.8px;' >1200</text>
<text x='129.00' y='563.50' text-anchor='middle' fill='#000' style='font-family:"Liberation Serif", "DejaVu Serif", serif;font-size:14.1px;' stroke='#000' stroke-width='0.25'>x [µm]</text>
<text transform='translate(14.399999999999999,461.6) rotate(-90)' text-anchor='middle' style='font-family:"Liberation Serif", "DejaVu Serif", serif;font-size:14.1px' stroke='#000' stroke-width='0.25'>y [µm]</text>
<line x1='316.2' y1='38.6' x2='316.2' y2='140.4' stroke='#f5f5f5' stroke-width='1'/>
<line x1='349.3' y1='38.6' x2='349.3' y2='140.4' stroke='#f5f5f5' stroke-width='1'/>
<line x1='382.4' y1='38.6' x2='382.4' y2='140.4' stroke='#f5f5f5' stroke-width='1'/>
<line x1='415.5' y1='38.6' x2='415.5' y2='140.4' stroke='#f5f5f5' stroke-width='1'/>
<rect x='283.1' y='38.6' width='165.5' height='101.8' fill='none' stroke='#e2e2e2' stroke-width='1'/>
<path d='M289.7,38.6v1.7M289.7,140.4v-1.7M296.3,38.6v1.7M296.3,140.4v-1.7M303.0,38.6v1.7M303.0,140.4v-1.7M309.6,38.6v1.7M309.6,140.4v-1.7M322.8,38.6v1.7M322.8,140.4v-1.7M329.4,38.6v1.7M329.4,140.4v-1.7M336.1,38.6v1.7M336.1,140.4v-1.7M342.7,38.6v1.7M342.7,140.4v-1.7M355.9,38.6v1.7M355.9,140.4v-1.7M362.5,38.6v1.7M362.5,140.4v-1.7M369.2,38.6v1.7M369.2,140.4v-1.7M375.8,38.6v1.7M375.8,140.4v-1.7M389.0,38.6v1.7M389.0,140.4v-1.7M395.6,38.6v1.7M395.6,140.4v-1.7M402.3,38.6v1.7M402.3,140.4v-1.7M408.9,38.6v1.7M408.9,140.4v-1.7M422.1,38.6v1.7M422.1,140.4v-1.7M428.7,38.6v1.7M428.7,140.4v-1.7M435.4,38.6v1.7M435.4,140.4v-1.7M442.0,38.6v1.7M442.0,140.4v-1.7M283.1,38.6v2.8M283.1,140.4v-2.8M316.2,38.6v2.8M316.2,140.4v-2.8M349.3,38.6v2.8M349.3,140.4v-2.8M382.4,38.6v2.8M382.4,140.4v-2.8M415.5,38.6v2.8M415.5,140.4v-2.8M448.6,38.6v2.8M448.6,140.4v-2.8M283.1,136.1h1.7M448.6,136.1h-1.7M283.1,132.5h1.7M448.6,132.5h-1.7M283.1,128.8h1.7M448.6,128.8h-1.7M283.1,125.1h1.7M448.6,125.1h-1.7M283.1,117.8h1.7M448.6,117.8h-1.7M283.1,114.1h1.7M448.6,114.1h-1.7M283.1,110.4h1.7M448.6,110.4h-1.7M283.1,106.8h1.7M448.6,106.8h-1.7M283.1,99.4h1.7M448.6,99.4h-1.7M283.1,95.8h1.7M448.6,95.8h-1.7M283.1,92.1h1.7M448.6,92.1h-1.7M283.1,88.4h1.7M448.6,88.4h-1.7M283.1,81.1h1.7M448.6,81.1h-1.7M283.1,77.4h1.7M448.6,77.4h-1.7M283.1,73.7h1.7M448.6,73.7h-1.7M283.1,70.1h1.7M448.6,70.1h-1.7M283.1,62.7h1.7M448.6,62.7h-1.7M283.1,59.1h1.7M448.6,59.1h-1.7M283.1,55.4h1.7M448.6,55.4h-1.7M283.1,51.7h1.7M448.6,51.7h-1.7M283.1,44.4h1.7M448.6,44.4h-1.7M283.1,40.7h1.7M448.6,40.7h-1.7M283.1,139.8h2.8M448.6,139.8h-2.8M283.1,121.5h2.8M448.6,121.5h-2.8M283.1,103.1h2.8M448.6,103.1h-2.8M283.1,84.8h2.8M448.6,84.8h-2.8M283.1,66.4h2.8M448.6,66.4h-2.8M283.1,48.1h2.8M448.6,48.1h-2.8' stroke='#d0d0d0' stroke-width='0.8' fill='none'/>
<line x1='283.1' y1='103.1' x2='448.6' y2='103.1' stroke='#b4b4b4' stroke-width='1.4'/>
<path d='M283.8,136.4 L284.5,135.3 L285.5,129.4 L286.7,120.7 L287.6,111.9 L288.2,103.1 L288.6,95.1 L289.2,83.4 L290.1,68.8 L291.4,57.1 L292.8,48.4 L294.3,44.3 L295.8,43.2 L296.9,44.7 L298.1,49.8 L299.6,56.4 L301.3,60.5 L303.1,61.8 L304.2,61.8 L306.4,64.4 L308.6,67.3 L311.5,70.0 L313.7,71.7 L315.9,71.7 L318.8,72.4 L321.8,74.3 L324.7,75.8 L327.6,76.8 L330.5,78.3 L334.6,78.2 L339.1,80.1 L343.7,81.4 L348.2,81.9 L352.8,82.6 L357.4,83.0 L361.9,84.1 L366.5,83.7 L371.1,84.6 L376.5,87.4 L382.9,86.6 L388.4,87.0 L392.0,88.3 L396.6,88.1 L399.3,87.4 L403.9,87.9 L408.5,88.8 L415.8,89.6 L421.2,90.7 L427.6,91.6 L431.3,91.0 L437.7,92.1 L443.1,93.2 L448.2,93.4' fill='none' stroke='#ea7680' stroke-width='1.55' stroke-linejoin='round' stroke-linecap='round'/>
<text x='279.50' y='52.50' text-anchor='end' fill='#828282' style='font-family:"Liberation Serif", "DejaVu Serif", serif;font-size:13.2px;letter-spacing:0.4px;' >2.5</text>
<text x='279.50' y='72.20' text-anchor='end' fill='#828282' style='font-family:"Liberation Serif", "DejaVu Serif", serif;font-size:13.2px;letter-spacing:0.4px;' >2.0</text>
<text x='279.50' y='91.40' text-anchor='end' fill='#828282' style='font-family:"Liberation Serif", "DejaVu Serif", serif;font-size:13.2px;letter-spacing:0.4px;' >1.5</text>
<text x='279.50' y='109.00' text-anchor='end' fill='#828282' style='font-family:"Liberation Serif", "DejaVu Serif", serif;font-size:13.2px;letter-spacing:0.4px;' >1.0</text>
<text x='279.50' y='129.10' text-anchor='end' fill='#828282' style='font-family:"Liberation Serif", "DejaVu Serif", serif;font-size:13.2px;letter-spacing:0.4px;' >0.5</text>
<text x='279.50' y='147.20' text-anchor='end' fill='#828282' style='font-family:"Liberation Serif", "DejaVu Serif", serif;font-size:13.2px;letter-spacing:0.4px;' >0.0</text>
<text x='282.45' y='155.10' text-anchor='middle' fill='#828282' style='font-family:"Liberation Serif", "DejaVu Serif", serif;font-size:13.6px;letter-spacing:0.9px;' >0</text>
<text x='315.55' y='155.10' text-anchor='middle' fill='#828282' style='font-family:"Liberation Serif", "DejaVu Serif", serif;font-size:13.6px;letter-spacing:0.9px;' >50</text>
<text x='348.65' y='155.10' text-anchor='middle' fill='#828282' style='font-family:"Liberation Serif", "DejaVu Serif", serif;font-size:13.6px;letter-spacing:0.9px;' >100</text>
<text x='381.75' y='155.10' text-anchor='middle' fill='#828282' style='font-family:"Liberation Serif", "DejaVu Serif", serif;font-size:13.6px;letter-spacing:0.9px;' >150</text>
<text x='414.85' y='155.10' text-anchor='middle' fill='#828282' style='font-family:"Liberation Serif", "DejaVu Serif", serif;font-size:13.6px;letter-spacing:0.9px;' >200</text>
<text x='447.95' y='155.10' text-anchor='middle' fill='#828282' style='font-family:"Liberation Serif", "DejaVu Serif", serif;font-size:13.6px;letter-spacing:0.9px;' >250</text>
<text x='289.6' y='30.4' textLength='148.4' lengthAdjust='spacingAndGlyphs' style='font-family:"Liberation Sans", Arial, sans-serif;font-size:15.1px'>2pCF, patient 20, <tspan style='font-family:"STIX Two Math", "Latin Modern Math", "DejaVu Math TeX Gyre", "Libertinus Math", "Noto Sans Math", "FreeSerif", "DejaVu Serif", "Liberation Serif", serif;font-size:15.4px'>𝒯</tspan> 1</text>
<text x='369.50' y='173.20' text-anchor='middle' fill='#000' style='font-family:"Liberation Serif", "DejaVu Serif", serif;font-size:18.5px;letter-spacing:-0.7px;' >r [µm]</text>
<text transform='translate(251,87) rotate(-90)' text-anchor='middle' style='font-family:"Liberation Serif", "DejaVu Serif", serif;font-size:17.5px'><tspan font-style='italic' font-size='18.5'>c</tspan><tspan dy='2.8' font-size='10.5'>2p</tspan><tspan dy='-2.8' dx='0.5' font-size='17'>+</tspan><tspan dx='0.3'>1</tspan></text>
<line x1='316.4' y1='230.8' x2='316.4' y2='333.7' stroke='#f5f5f5' stroke-width='1'/>
<line x1='349.6' y1='230.8' x2='349.6' y2='333.7' stroke='#f5f5f5' stroke-width='1'/>
<line x1='382.9' y1='230.8' x2='382.9' y2='333.7' stroke='#f5f5f5' stroke-width='1'/>
<line x1='416.1' y1='230.8' x2='416.1' y2='333.7' stroke='#f5f5f5' stroke-width='1'/>
<rect x='283.1' y='230.8' width='166.3' height='102.9' fill='none' stroke='#e2e2e2' stroke-width='1'/>
<path d='M289.8,230.8v1.7M289.8,333.7v-1.7M296.4,230.8v1.7M296.4,333.7v-1.7M303.1,230.8v1.7M303.1,333.7v-1.7M309.7,230.8v1.7M309.7,333.7v-1.7M323.0,230.8v1.7M323.0,333.7v-1.7M329.7,230.8v1.7M329.7,333.7v-1.7M336.3,230.8v1.7M336.3,333.7v-1.7M343.0,230.8v1.7M343.0,333.7v-1.7M356.2,230.8v1.7M356.2,333.7v-1.7M362.9,230.8v1.7M362.9,333.7v-1.7M369.6,230.8v1.7M369.6,333.7v-1.7M376.2,230.8v1.7M376.2,333.7v-1.7M389.5,230.8v1.7M389.5,333.7v-1.7M396.2,230.8v1.7M396.2,333.7v-1.7M402.8,230.8v1.7M402.8,333.7v-1.7M409.5,230.8v1.7M409.5,333.7v-1.7M422.8,230.8v1.7M422.8,333.7v-1.7M429.4,230.8v1.7M429.4,333.7v-1.7M436.1,230.8v1.7M436.1,333.7v-1.7M442.7,230.8v1.7M442.7,333.7v-1.7M283.1,230.8v2.8M283.1,333.7v-2.8M316.4,230.8v2.8M316.4,333.7v-2.8M349.6,230.8v2.8M349.6,333.7v-2.8M382.9,230.8v2.8M382.9,333.7v-2.8M416.1,230.8v2.8M416.1,333.7v-2.8M449.4,230.8v2.8M449.4,333.7v-2.8M283.1,326.9h1.7M449.4,326.9h-1.7M283.1,323.0h1.7M449.4,323.0h-1.7M283.1,319.2h1.7M449.4,319.2h-1.7M283.1,315.3h1.7M449.4,315.3h-1.7M283.1,307.7h1.7M449.4,307.7h-1.7M283.1,303.8h1.7M449.4,303.8h-1.7M283.1,300.0h1.7M449.4,300.0h-1.7M283.1,296.1h1.7M449.4,296.1h-1.7M283.1,288.5h1.7M449.4,288.5h-1.7M283.1,284.6h1.7M449.4,284.6h-1.7M283.1,280.8h1.7M449.4,280.8h-1.7M283.1,276.9h1.7M449.4,276.9h-1.7M283.1,269.3h1.7M449.4,269.3h-1.7M283.1,265.4h1.7M449.4,265.4h-1.7M283.1,261.6h1.7M449.4,261.6h-1.7M283.1,257.7h1.7M449.4,257.7h-1.7M283.1,250.1h1.7M449.4,250.1h-1.7M283.1,246.2h1.7M449.4,246.2h-1.7M283.1,242.4h1.7M449.4,242.4h-1.7M283.1,238.5h1.7M449.4,238.5h-1.7M283.1,230.9h1.7M449.4,230.9h-1.7M283.1,330.7h2.8M449.4,330.7h-2.8M283.1,311.5h2.8M449.4,311.5h-2.8M283.1,292.3h2.8M449.4,292.3h-2.8M283.1,273.1h2.8M449.4,273.1h-2.8M283.1,253.9h2.8M449.4,253.9h-2.8M283.1,234.7h2.8M449.4,234.7h-2.8' stroke='#d0d0d0' stroke-width='0.8' fill='none'/>
<line x1='283.1' y1='292.3' x2='449.4' y2='292.3' stroke='#b4b4b4' stroke-width='1.4'/>
<path d='M283.4,328.2 L284.5,322.3 L285.5,319.4 L286.4,309.2 L287.2,294.6 L287.6,280.7 L288.2,266.1 L289.2,254.4 L290.7,245.7 L292.1,241.3 L293.7,239.5 L295.5,236.2 L296.9,239.1 L298.4,244.9 L300.1,250.8 L302.0,256.2 L304.2,259.5 L307.2,262.4 L310.1,267.3 L313.0,269.7 L315.9,272.2 L319.6,277.0 L323.2,280.7 L327.6,283.3 L330.5,284.8 L334.6,286.5 L339.1,287.8 L342.8,288.0 L347.3,290.2 L351.9,291.8 L357.4,292.9 L362.8,293.6 L366.5,292.7 L372.0,294.2 L377.4,293.5 L382.9,293.8 L387.5,293.3 L391.1,293.8 L396.6,295.7 L403.0,295.3 L408.5,294.6 L414.9,292.9 L419.4,293.8 L423.1,293.3 L428.5,293.8 L433.1,292.9 L437.7,293.8 L441.3,293.3 L445.0,293.8 L449.2,293.6' fill='none' stroke='#ea7680' stroke-width='1.55' stroke-linejoin='round' stroke-linecap='round'/>
<text x='278.60' y='239.10' text-anchor='end' fill='#828282' style='font-family:"Liberation Serif", "DejaVu Serif", serif;font-size:13.2px;letter-spacing:0.4px;' >2.5</text>
<text x='278.60' y='258.80' text-anchor='end' fill='#828282' style='font-family:"Liberation Serif", "DejaVu Serif", serif;font-size:13.2px;letter-spacing:0.4px;' >2.0</text>
<text x='278.60' y='277.80' text-anchor='end' fill='#828282' style='font-family:"Liberation Serif", "DejaVu Serif", serif;font-size:13.2px;letter-spacing:0.4px;' >1.5</text>
<text x='278.60' y='296.40' text-anchor='end' fill='#828282' style='font-family:"Liberation Serif", "DejaVu Serif", serif;font-size:13.2px;letter-spacing:0.4px;' >1.0</text>
<text x='278.60' y='316.20' text-anchor='end' fill='#828282' style='font-family:"Liberation Serif", "DejaVu Serif", serif;font-size:13.2px;letter-spacing:0.4px;' >0.5</text>
<text x='278.60' y='334.80' text-anchor='end' fill='#828282' style='font-family:"Liberation Serif", "DejaVu Serif", serif;font-size:13.2px;letter-spacing:0.4px;' >0.0</text>
<text x='282.15' y='349.50' text-anchor='middle' fill='#828282' style='font-family:"Liberation Serif", "DejaVu Serif", serif;font-size:13.6px;letter-spacing:0.9px;' >0</text>
<text x='315.40' y='349.50' text-anchor='middle' fill='#828282' style='font-family:"Liberation Serif", "DejaVu Serif", serif;font-size:13.6px;letter-spacing:0.9px;' >50</text>
<text x='348.65' y='349.50' text-anchor='middle' fill='#828282' style='font-family:"Liberation Serif", "DejaVu Serif", serif;font-size:13.6px;letter-spacing:0.9px;' >100</text>
<text x='381.90' y='349.50' text-anchor='middle' fill='#828282' style='font-family:"Liberation Serif", "DejaVu Serif", serif;font-size:13.6px;letter-spacing:0.9px;' >150</text>
<text x='415.15' y='349.50' text-anchor='middle' fill='#828282' style='font-family:"Liberation Serif", "DejaVu Serif", serif;font-size:13.6px;letter-spacing:0.9px;' >200</text>
<text x='448.40' y='349.50' text-anchor='middle' fill='#828282' style='font-family:"Liberation Serif", "DejaVu Serif", serif;font-size:13.6px;letter-spacing:0.9px;' >250</text>
<text x='288.6' y='223.2' textLength='149.1' lengthAdjust='spacingAndGlyphs' style='font-family:"Liberation Sans", Arial, sans-serif;font-size:15.1px'>2pCF, patient 20, <tspan style='font-family:"STIX Two Math", "Latin Modern Math", "DejaVu Math TeX Gyre", "Libertinus Math", "Noto Sans Math", "FreeSerif", "DejaVu Serif", "Liberation Serif", serif;font-size:15.4px'>𝒯</tspan> 2</text>
<text x='369.90' y='367.60' text-anchor='middle' fill='#000' style='font-family:"Liberation Serif", "DejaVu Serif", serif;font-size:18.5px;letter-spacing:-0.7px;' >r [µm]</text>
<text transform='translate(250.3,272.75) rotate(-90)' text-anchor='middle' style='font-family:"Liberation Serif", "DejaVu Serif", serif;font-size:17.5px'><tspan font-style='italic' font-size='18.5'>c</tspan><tspan dy='2.8' font-size='10.5'>2p</tspan><tspan dy='-2.8' dx='0.5' font-size='17'>+</tspan><tspan dx='0.3'>1</tspan></text>
<line x1='313.4' y1='418.9' x2='313.4' y2='520.7' stroke='#f5f5f5' stroke-width='1'/>
<line x1='346.4' y1='418.9' x2='346.4' y2='520.7' stroke='#f5f5f5' stroke-width='1'/>
<line x1='379.4' y1='418.9' x2='379.4' y2='520.7' stroke='#f5f5f5' stroke-width='1'/>
<line x1='412.4' y1='418.9' x2='412.4' y2='520.7' stroke='#f5f5f5' stroke-width='1'/>
<rect x='280.4' y='418.9' width='165.6' height='101.8' fill='none' stroke='#e2e2e2' stroke-width='1'/>
<path d='M287.0,418.9v1.7M287.0,520.7v-1.7M293.6,418.9v1.7M293.6,520.7v-1.7M300.2,418.9v1.7M300.2,520.7v-1.7M306.8,418.9v1.7M306.8,520.7v-1.7M320.0,418.9v1.7M320.0,520.7v-1.7M326.6,418.9v1.7M326.6,520.7v-1.7M333.2,418.9v1.7M333.2,520.7v-1.7M339.8,418.9v1.7M339.8,520.7v-1.7M353.0,418.9v1.7M353.0,520.7v-1.7M359.6,418.9v1.7M359.6,520.7v-1.7M366.2,418.9v1.7M366.2,520.7v-1.7M372.8,418.9v1.7M372.8,520.7v-1.7M386.0,418.9v1.7M386.0,520.7v-1.7M392.6,418.9v1.7M392.6,520.7v-1.7M399.2,418.9v1.7M399.2,520.7v-1.7M405.8,418.9v1.7M405.8,520.7v-1.7M419.0,418.9v1.7M419.0,520.7v-1.7M425.6,418.9v1.7M425.6,520.7v-1.7M432.2,418.9v1.7M432.2,520.7v-1.7M438.8,418.9v1.7M438.8,520.7v-1.7M280.4,418.9v2.8M280.4,520.7v-2.8M313.4,418.9v2.8M313.4,520.7v-2.8M346.4,418.9v2.8M346.4,520.7v-2.8M379.4,418.9v2.8M379.4,520.7v-2.8M412.4,418.9v2.8M412.4,520.7v-2.8M445.4,418.9v2.8M445.4,520.7v-2.8M280.4,515.1h1.7M446.0,515.1h-1.7M280.4,512.4h1.7M446.0,512.4h-1.7M280.4,509.8h1.7M446.0,509.8h-1.7M280.4,507.1h1.7M446.0,507.1h-1.7M280.4,501.7h1.7M446.0,501.7h-1.7M280.4,499.0h1.7M446.0,499.0h-1.7M280.4,496.4h1.7M446.0,496.4h-1.7M280.4,493.7h1.7M446.0,493.7h-1.7M280.4,488.3h1.7M446.0,488.3h-1.7M280.4,485.6h1.7M446.0,485.6h-1.7M280.4,483.0h1.7M446.0,483.0h-1.7M280.4,480.3h1.7M446.0,480.3h-1.7M280.4,474.9h1.7M446.0,474.9h-1.7M280.4,472.2h1.7M446.0,472.2h-1.7M280.4,469.6h1.7M446.0,469.6h-1.7M280.4,466.9h1.7M446.0,466.9h-1.7M280.4,461.5h1.7M446.0,461.5h-1.7M280.4,458.8h1.7M446.0,458.8h-1.7M280.4,456.2h1.7M446.0,456.2h-1.7M280.4,453.5h1.7M446.0,453.5h-1.7M280.4,448.1h1.7M446.0,448.1h-1.7M280.4,445.4h1.7M446.0,445.4h-1.7M280.4,442.8h1.7M446.0,442.8h-1.7M280.4,440.1h1.7M446.0,440.1h-1.7M280.4,434.7h1.7M446.0,434.7h-1.7M280.4,432.0h1.7M446.0,432.0h-1.7M280.4,429.4h1.7M446.0,429.4h-1.7M280.4,426.7h1.7M446.0,426.7h-1.7M280.4,421.3h1.7M446.0,421.3h-1.7M280.4,517.8h2.8M446.0,517.8h-2.8M280.4,504.4h2.8M446.0,504.4h-2.8M280.4,491.0h2.8M446.0,491.0h-2.8M280.4,477.6h2.8M446.0,477.6h-2.8M280.4,464.2h2.8M446.0,464.2h-2.8M280.4,450.8h2.8M446.0,450.8h-2.8M280.4,437.4h2.8M446.0,437.4h-2.8M280.4,424.0h2.8M446.0,424.0h-2.8' stroke='#d0d0d0' stroke-width='0.8' fill='none'/>
<line x1='280.4' y1='491.0' x2='446.0' y2='491.0' stroke='#b4b4b4' stroke-width='1.4'/>
<path d='M280.9,511.0 L281.9,507.3 L282.8,497.1 L283.4,486.9 L283.8,470.7 L284.5,456.1 L285.5,443.0 L286.7,434.2 L288.2,429.8 L289.9,426.9 L291.5,424.0 L293.3,426.2 L294.7,431.3 L296.2,440.0 L297.7,446.6 L299.1,448.8 L301.3,454.6 L304.2,461.2 L307.2,466.6 L310.1,470.9 L313.0,474.2 L315.9,477.0 L319.6,479.5 L322.5,482.0 L326.1,484.0 L330.5,486.9 L335.0,488.2 L339.6,489.3 L345.1,489.1 L350.5,490.2 L358.8,489.1 L363.3,489.8 L368.8,489.1 L374.3,489.8 L379.7,490.9 L388.0,491.5 L394.3,490.9 L401.6,491.3 L408.9,490.5 L414.4,491.6 L421.7,491.5 L427.2,492.2 L432.7,492.4 L438.1,491.5 L442.7,490.4 L445.8,491.1' fill='none' stroke='#ea7680' stroke-width='1.55' stroke-linejoin='round' stroke-linecap='round'/>
<text x='276.90' y='428.40' text-anchor='end' fill='#828282' style='font-family:"Liberation Serif", "DejaVu Serif", serif;font-size:13.2px;letter-spacing:0.4px;' >3.5</text>
<text x='276.90' y='441.50' text-anchor='end' fill='#828282' style='font-family:"Liberation Serif", "DejaVu Serif", serif;font-size:13.2px;letter-spacing:0.4px;' >3.0</text>
<text x='276.90' y='454.90' text-anchor='end' fill='#828282' style='font-family:"Liberation Serif", "DejaVu Serif", serif;font-size:13.2px;letter-spacing:0.4px;' >2.5</text>
<text x='276.90' y='468.10' text-anchor='end' fill='#828282' style='font-family:"Liberation Serif", "DejaVu Serif", serif;font-size:13.2px;letter-spacing:0.4px;' >2.0</text>
<text x='276.90' y='481.90' text-anchor='end' fill='#828282' style='font-family:"Liberation Serif", "DejaVu Serif", serif;font-size:13.2px;letter-spacing:0.4px;' >1.5</text>
<text x='276.90' y='495.70' text-anchor='end' fill='#828282' style='font-family:"Liberation Serif", "DejaVu Serif", serif;font-size:13.2px;letter-spacing:0.4px;' >1.0</text>
<text x='276.90' y='508.80' text-anchor='end' fill='#828282' style='font-family:"Liberation Serif", "DejaVu Serif", serif;font-size:13.2px;letter-spacing:0.4px;' >0.5</text>
<text x='276.90' y='522.20' text-anchor='end' fill='#828282' style='font-family:"Liberation Serif", "DejaVu Serif", serif;font-size:13.2px;letter-spacing:0.4px;' >0.0</text>
<text x='281.25' y='534.50' text-anchor='middle' fill='#828282' style='font-family:"Liberation Serif", "DejaVu Serif", serif;font-size:13.6px;letter-spacing:0.9px;' >0</text>
<text x='314.25' y='534.50' text-anchor='middle' fill='#828282' style='font-family:"Liberation Serif", "DejaVu Serif", serif;font-size:13.6px;letter-spacing:0.9px;' >50</text>
<text x='347.25' y='534.50' text-anchor='middle' fill='#828282' style='font-family:"Liberation Serif", "DejaVu Serif", serif;font-size:13.6px;letter-spacing:0.9px;' >100</text>
<text x='380.25' y='534.50' text-anchor='middle' fill='#828282' style='font-family:"Liberation Serif", "DejaVu Serif", serif;font-size:13.6px;letter-spacing:0.9px;' >150</text>
<text x='413.25' y='534.50' text-anchor='middle' fill='#828282' style='font-family:"Liberation Serif", "DejaVu Serif", serif;font-size:13.6px;letter-spacing:0.9px;' >200</text>
<text x='446.25' y='534.50' text-anchor='middle' fill='#828282' style='font-family:"Liberation Serif", "DejaVu Serif", serif;font-size:13.6px;letter-spacing:0.9px;' >250</text>
<text x='286.6' y='411.6' textLength='150.1' lengthAdjust='spacingAndGlyphs' style='font-family:"Liberation Sans", Arial, sans-serif;font-size:15.1px'>2pCF, patient 20, <tspan style='font-family:"STIX Two Math", "Latin Modern Math", "DejaVu Math TeX Gyre", "Libertinus Math", "Noto Sans Math", "FreeSerif", "DejaVu Serif", "Liberation Serif", serif;font-size:15.4px'>𝒯</tspan> 3</text>
<text x='368.05' y='552.60' text-anchor='middle' fill='#000' style='font-family:"Liberation Serif", "DejaVu Serif", serif;font-size:18.5px;letter-spacing:-0.7px;' >r [µm]</text>
<text transform='translate(250.6,471.2) rotate(-90)' text-anchor='middle' style='font-family:"Liberation Serif", "DejaVu Serif", serif;font-size:17.5px'><tspan font-style='italic' font-size='18.5'>c</tspan><tspan dy='2.8' font-size='10.5'>2p</tspan><tspan dy='-2.8' dx='0.5' font-size='17'>+</tspan><tspan dx='0.3'>1</tspan></text>
<line x1='542.4' y1='38.5' x2='542.4' y2='140.2' stroke='#f5f5f5' stroke-width='1'/>
<line x1='608.4' y1='38.5' x2='608.4' y2='140.2' stroke='#f5f5f5' stroke-width='1'/>
<line x1='512.8' y1='50.6' x2='678.1' y2='50.6' stroke='#f5f5f5' stroke-width='1'/>
<line x1='512.8' y1='75.6' x2='678.1' y2='75.6' stroke='#f5f5f5' stroke-width='1'/>
<line x1='512.8' y1='87.1' x2='678.1' y2='87.1' stroke='#f5f5f5' stroke-width='1'/>
<line x1='512.8' y1='112.4' x2='678.1' y2='112.4' stroke='#f5f5f5' stroke-width='1'/>
<line x1='512.8' y1='123.4' x2='678.1' y2='123.4' stroke='#f5f5f5' stroke-width='1'/>
<rect x='512.8' y='38.5' width='165.3' height='101.7' fill='none' stroke='#e2e2e2' stroke-width='1'/>
<path d='M516.1,38.5v1.7M516.1,140.2v-1.7M522.5,38.5v1.7M522.5,140.2v-1.7M527.8,38.5v1.7M527.8,140.2v-1.7M532.2,38.5v1.7M532.2,140.2v-1.7M536.0,38.5v1.7M536.0,140.2v-1.7M539.4,38.5v1.7M539.4,140.2v-1.7M562.3,38.5v1.7M562.3,140.2v-1.7M573.9,38.5v1.7M573.9,140.2v-1.7M582.1,38.5v1.7M582.1,140.2v-1.7M588.5,38.5v1.7M588.5,140.2v-1.7M593.8,38.5v1.7M593.8,140.2v-1.7M598.2,38.5v1.7M598.2,140.2v-1.7M602.0,38.5v1.7M602.0,140.2v-1.7M605.4,38.5v1.7M605.4,140.2v-1.7M628.3,38.5v1.7M628.3,140.2v-1.7M639.9,38.5v1.7M639.9,140.2v-1.7M648.1,38.5v1.7M648.1,140.2v-1.7M654.5,38.5v1.7M654.5,140.2v-1.7M659.8,38.5v1.7M659.8,140.2v-1.7M664.2,38.5v1.7M664.2,140.2v-1.7M668.0,38.5v1.7M668.0,140.2v-1.7M671.4,38.5v1.7M671.4,140.2v-1.7M542.4,38.5v2.8M542.4,140.2v-2.8M608.4,38.5v2.8M608.4,140.2v-2.8M674.4,38.5v2.8M674.4,140.2v-2.8M512.8,138.4h1.7M678.1,138.4h-1.7M512.8,131.8h1.7M678.1,131.8h-1.7M512.8,127.2h1.7M678.1,127.2h-1.7M512.8,123.6h1.7M678.1,123.6h-1.7M512.8,120.7h1.7M678.1,120.7h-1.7M512.8,118.2h1.7M678.1,118.2h-1.7M512.8,116.1h1.7M678.1,116.1h-1.7M512.8,114.2h1.7M678.1,114.2h-1.7M512.8,101.4h1.7M678.1,101.4h-1.7M512.8,94.8h1.7M678.1,94.8h-1.7M512.8,90.2h1.7M678.1,90.2h-1.7M512.8,86.6h1.7M678.1,86.6h-1.7M512.8,83.7h1.7M678.1,83.7h-1.7M512.8,81.2h1.7M678.1,81.2h-1.7M512.8,79.1h1.7M678.1,79.1h-1.7M512.8,77.2h1.7M678.1,77.2h-1.7M512.8,64.4h1.7M678.1,64.4h-1.7M512.8,57.8h1.7M678.1,57.8h-1.7M512.8,53.2h1.7M678.1,53.2h-1.7M512.8,49.6h1.7M678.1,49.6h-1.7M512.8,46.7h1.7M678.1,46.7h-1.7M512.8,44.2h1.7M678.1,44.2h-1.7M512.8,42.1h1.7M678.1,42.1h-1.7M512.8,40.2h1.7M678.1,40.2h-1.7M512.8,112.5h2.8M678.1,112.5h-2.8M512.8,75.5h2.8M678.1,75.5h-2.8M512.8,38.5h2.8M678.1,38.5h-2.8' stroke='#d0d0d0' stroke-width='0.8' fill='none'/>
<path d='M516.1,44.9 L528.8,44.4 L543.4,43.8 L555.1,43.2 L560.9,43.2 L566.8,43.7 L572.6,45.1 L575.0,45.8 L581.3,49.4 L587.7,53.7 L594.0,56.4 L602.5,58.1 L609.9,59.6 L617.3,60.0 L624.7,61.7 L631.0,65.5 L638.4,72.3 L642.6,79.7 L645.8,89.2 L648.9,98.7 L652.1,102.9 L657.4,107.1 L659.5,114.5 L661.2,120.5 L662.3,125.6 L663.5,132.3 L665.1,129.5 L666.1,132.0 L667.2,134.8 L669.6,131.3 L671.4,133.4 L672.8,134.8 L674.9,135.1' fill='none' stroke='#ea7680' stroke-width='1.3' stroke-linejoin='round' stroke-linecap='round'/>
<text x='509.00' y='43.50' text-anchor='end' fill='#828282' style='font-family:"Liberation Serif", "DejaVu Serif", serif;font-size:13.0px;letter-spacing:0.6px;' >10</text>
<text x='509.00' y='56.30' text-anchor='end' fill='#828282' style='font-family:"Liberation Serif", "DejaVu Serif", serif;font-size:13.0px;letter-spacing:0.6px;' >5</text>
<text x='509.00' y='80.40' text-anchor='end' fill='#828282' style='font-family:"Liberation Serif", "DejaVu Serif", serif;font-size:13.0px;letter-spacing:0.6px;' >1</text>
<text x='509.00' y='92.50' text-anchor='end' fill='#828282' style='font-family:"Liberation Serif", "DejaVu Serif", serif;font-size:13.0px;letter-spacing:0.6px;' >0.5</text>
<text x='509.00' y='117.30' text-anchor='end' fill='#828282' style='font-family:"Liberation Serif", "DejaVu Serif", serif;font-size:13.0px;letter-spacing:0.6px;' >0.10</text>
<text x='509.00' y='128.60' text-anchor='end' fill='#828282' style='font-family:"Liberation Serif", "DejaVu Serif", serif;font-size:13.0px;letter-spacing:0.6px;' >0.05</text>
<text x='544.60' y='154.10' text-anchor='middle' fill='#828282' style='font-family:"Liberation Serif", "DejaVu Serif", serif;font-size:12.9px;letter-spacing:1.0px;' >0.01</text>
<text x='610.20' y='154.10' text-anchor='middle' fill='#828282' style='font-family:"Liberation Serif", "DejaVu Serif", serif;font-size:12.9px;letter-spacing:1.0px;' >0.1</text>
<text x='673.30' y='153.80' text-anchor='middle' fill='#777' style='font-family:"Liberation Serif", "DejaVu Serif", serif;font-size:18px;' >1</text>
<text x='521.1' y='32.8' textLength='141.7' lengthAdjust='spacingAndGlyphs' style='font-family:"Liberation Sans", Arial, sans-serif;font-size:15.1px'>PSD, patient 20, <tspan style='font-family:"STIX Two Math", "Latin Modern Math", "DejaVu Math TeX Gyre", "Libertinus Math", "Noto Sans Math", "FreeSerif", "DejaVu Serif", "Liberation Serif", serif;font-size:15.4px'>𝒯</tspan> 1</text>
<text x='598.1' y='173.6' text-anchor='middle' style='font-family:"Liberation Serif", "DejaVu Serif", serif;font-size:17px'>k [µm<tspan dy='-5.5' style='font-size:10.5px'>-1</tspan><tspan dy='5.5'>]</tspan></text>
<text transform='translate(473.3,82.85) rotate(-90)' text-anchor='middle' style='font-family:"Liberation Serif", "DejaVu Serif", serif;font-size:13.6px;letter-spacing:0.3px'>P [µm<tspan dy='-4.5' style='font-size:9.5px'>3</tspan><tspan dy='4.5'>]</tspan></text>
<line x1='544.1' y1='231.0' x2='544.1' y2='333.1' stroke='#f5f5f5' stroke-width='1'/>
<line x1='610.3' y1='231.0' x2='610.3' y2='333.1' stroke='#f5f5f5' stroke-width='1'/>
<line x1='514.2' y1='238.8' x2='680.6' y2='238.8' stroke='#f5f5f5' stroke-width='1'/>
<line x1='514.2' y1='267.0' x2='680.6' y2='267.0' stroke='#f5f5f5' stroke-width='1'/>
<line x1='514.2' y1='295.9' x2='680.6' y2='295.9' stroke='#f5f5f5' stroke-width='1'/>
<line x1='514.2' y1='324.9' x2='680.6' y2='324.9' stroke='#f5f5f5' stroke-width='1'/>
<rect x='514.2' y='231.0' width='166.4' height='102.1' fill='none' stroke='#e2e2e2' stroke-width='1'/>
<path d='M517.9,231.0v1.7M517.9,333.1v-1.7M524.3,231.0v1.7M524.3,333.1v-1.7M529.5,231.0v1.7M529.5,333.1v-1.7M533.9,231.0v1.7M533.9,333.1v-1.7M537.8,231.0v1.7M537.8,333.1v-1.7M541.2,231.0v1.7M541.2,333.1v-1.7M564.1,231.0v1.7M564.1,333.1v-1.7M575.8,231.0v1.7M575.8,333.1v-1.7M584.1,231.0v1.7M584.1,333.1v-1.7M590.5,231.0v1.7M590.5,333.1v-1.7M595.7,231.0v1.7M595.7,333.1v-1.7M600.1,231.0v1.7M600.1,333.1v-1.7M604.0,231.0v1.7M604.0,333.1v-1.7M607.4,231.0v1.7M607.4,333.1v-1.7M630.3,231.0v1.7M630.3,333.1v-1.7M642.0,231.0v1.7M642.0,333.1v-1.7M650.3,231.0v1.7M650.3,333.1v-1.7M656.7,231.0v1.7M656.7,333.1v-1.7M661.9,231.0v1.7M661.9,333.1v-1.7M666.3,231.0v1.7M666.3,333.1v-1.7M670.2,231.0v1.7M670.2,333.1v-1.7M673.6,231.0v1.7M673.6,333.1v-1.7M544.2,231.0v2.8M544.2,333.1v-2.8M610.4,231.0v2.8M610.4,333.1v-2.8M676.6,231.0v2.8M676.6,333.1v-2.8M514.2,331.0h1.7M680.6,331.0h-1.7M514.2,329.1h1.7M680.6,329.1h-1.7M514.2,327.4h1.7M680.6,327.4h-1.7M514.2,325.9h1.7M680.6,325.9h-1.7M514.2,315.9h1.7M680.6,315.9h-1.7M514.2,310.9h1.7M680.6,310.9h-1.7M514.2,307.3h1.7M680.6,307.3h-1.7M514.2,304.5h1.7M680.6,304.5h-1.7M514.2,302.2h1.7M680.6,302.2h-1.7M514.2,300.3h1.7M680.6,300.3h-1.7M514.2,298.6h1.7M680.6,298.6h-1.7M514.2,297.1h1.7M680.6,297.1h-1.7M514.2,287.1h1.7M680.6,287.1h-1.7M514.2,282.1h1.7M680.6,282.1h-1.7M514.2,278.5h1.7M680.6,278.5h-1.7M514.2,275.7h1.7M680.6,275.7h-1.7M514.2,273.4h1.7M680.6,273.4h-1.7M514.2,271.5h1.7M680.6,271.5h-1.7M514.2,269.8h1.7M680.6,269.8h-1.7M514.2,268.3h1.7M680.6,268.3h-1.7M514.2,258.3h1.7M680.6,258.3h-1.7M514.2,253.3h1.7M680.6,253.3h-1.7M514.2,249.7h1.7M680.6,249.7h-1.7M514.2,246.9h1.7M680.6,246.9h-1.7M514.2,244.6h1.7M680.6,244.6h-1.7M514.2,242.7h1.7M680.6,242.7h-1.7M514.2,241.0h1.7M680.6,241.0h-1.7M514.2,239.5h1.7M680.6,239.5h-1.7M514.2,324.6h2.8M680.6,324.6h-2.8M514.2,295.8h2.8M680.6,295.8h-2.8M514.2,267.0h2.8M680.6,267.0h-2.8M514.2,238.2h2.8M680.6,238.2h-2.8' stroke='#d0d0d0' stroke-width='0.8' fill='none'/>
<path d='M517.8,237.9 L528.8,237.5 L543.4,236.9 L555.1,236.2 L563.8,235.7 L569.7,236.2 L575.0,236.9 L581.3,239.3 L587.7,243.1 L596.1,248.4 L604.6,252.6 L612.0,255.8 L619.4,260.5 L625.7,262.1 L631.0,264.9 L636.3,269.5 L641.6,276.5 L645.8,282.2 L650.0,289.6 L652.8,292.1 L655.3,292.4 L658.5,296.0 L660.6,301.9 L663.3,307.6 L665.4,317.1 L667.3,324.5 L669.0,324.1 L671.1,324.9 L672.6,324.3 L673.9,326.0 L674.9,324.3 L676.4,327.6' fill='none' stroke='#ea7680' stroke-width='1.3' stroke-linejoin='round' stroke-linecap='round'/>
<text x='509.60' y='244.60' text-anchor='end' fill='#828282' style='font-family:"Liberation Serif", "DejaVu Serif", serif;font-size:13.0px;letter-spacing:0.6px;' >10</text>
<text x='509.60' y='272.90' text-anchor='end' fill='#828282' style='font-family:"Liberation Serif", "DejaVu Serif", serif;font-size:13.0px;letter-spacing:0.6px;' >1</text>
<text x='509.60' y='302.90' text-anchor='end' fill='#828282' style='font-family:"Liberation Serif", "DejaVu Serif", serif;font-size:13.0px;letter-spacing:0.6px;' >0.10</text>
<text x='509.60' y='333.20' text-anchor='end' fill='#828282' style='font-family:"Liberation Serif", "DejaVu Serif", serif;font-size:13.0px;letter-spacing:0.6px;' >0.01</text>
<text x='544.00' y='348.30' text-anchor='middle' fill='#828282' style='font-family:"Liberation Serif", "DejaVu Serif", serif;font-size:12.9px;letter-spacing:1.0px;' >0.01</text>
<text x='611.10' y='348.30' text-anchor='middle' fill='#828282' style='font-family:"Liberation Serif", "DejaVu Serif", serif;font-size:12.9px;letter-spacing:1.0px;' >0.1</text>
<text x='676.10' y='348.00' text-anchor='middle' fill='#777' style='font-family:"Liberation Serif", "DejaVu Serif", serif;font-size:16.5px;' >1</text>
<text x='524.6' y='223.7' textLength='143.1' lengthAdjust='spacingAndGlyphs' style='font-family:"Liberation Sans", Arial, sans-serif;font-size:15.1px'>PSD, patient 20, <tspan style='font-family:"STIX Two Math", "Latin Modern Math", "DejaVu Math TeX Gyre", "Libertinus Math", "Noto Sans Math", "FreeSerif", "DejaVu Serif", "Liberation Serif", serif;font-size:15.4px'>𝒯</tspan> 2</text>
<text x='597.5' y='367.8' text-anchor='middle' style='font-family:"Liberation Serif", "DejaVu Serif", serif;font-size:17px'>k [µm<tspan dy='-5.5' style='font-size:10.5px'>-1</tspan><tspan dy='5.5'>]</tspan></text>
<text transform='translate(478.9,278.2) rotate(-90)' text-anchor='middle' style='font-family:"Liberation Serif", "DejaVu Serif", serif;font-size:13.6px;letter-spacing:0.3px'>P [µm<tspan dy='-4.5' style='font-size:9.5px'>3</tspan><tspan dy='4.5'>]</tspan></text>
<line x1='539.4' y1='418.8' x2='539.4' y2='520.5' stroke='#f5f5f5' stroke-width='1'/>
<line x1='605.5' y1='418.8' x2='605.5' y2='520.5' stroke='#f5f5f5' stroke-width='1'/>
<line x1='509.9' y1='426.5' x2='675.2' y2='426.5' stroke='#f5f5f5' stroke-width='1'/>
<line x1='509.9' y1='452.3' x2='675.2' y2='452.3' stroke='#f5f5f5' stroke-width='1'/>
<line x1='509.9' y1='478.7' x2='675.2' y2='478.7' stroke='#f5f5f5' stroke-width='1'/>
<line x1='509.9' y1='504.4' x2='675.2' y2='504.4' stroke='#f5f5f5' stroke-width='1'/>
<rect x='509.9' y='418.8' width='165.3' height='101.7' fill='none' stroke='#e2e2e2' stroke-width='1'/>
<path d='M513.0,418.8v1.7M513.0,520.5v-1.7M519.4,418.8v1.7M519.4,520.5v-1.7M524.6,418.8v1.7M524.6,520.5v-1.7M529.0,418.8v1.7M529.0,520.5v-1.7M532.9,418.8v1.7M532.9,520.5v-1.7M536.3,418.8v1.7M536.3,520.5v-1.7M559.2,418.8v1.7M559.2,520.5v-1.7M570.9,418.8v1.7M570.9,520.5v-1.7M579.2,418.8v1.7M579.2,520.5v-1.7M585.6,418.8v1.7M585.6,520.5v-1.7M590.8,418.8v1.7M590.8,520.5v-1.7M595.2,418.8v1.7M595.2,520.5v-1.7M599.1,418.8v1.7M599.1,520.5v-1.7M602.5,418.8v1.7M602.5,520.5v-1.7M625.4,418.8v1.7M625.4,520.5v-1.7M637.1,418.8v1.7M637.1,520.5v-1.7M645.4,418.8v1.7M645.4,520.5v-1.7M651.8,418.8v1.7M651.8,520.5v-1.7M657.0,418.8v1.7M657.0,520.5v-1.7M661.4,418.8v1.7M661.4,520.5v-1.7M665.3,418.8v1.7M665.3,520.5v-1.7M668.7,418.8v1.7M668.7,520.5v-1.7M539.3,418.8v2.8M539.3,520.5v-2.8M605.5,418.8v2.8M605.5,520.5v-2.8M671.7,418.8v2.8M671.7,520.5v-2.8M509.9,517.9h1.7M675.2,517.9h-1.7M509.9,514.6h1.7M675.2,514.6h-1.7M509.9,512.1h1.7M675.2,512.1h-1.7M509.9,510.1h1.7M675.2,510.1h-1.7M509.9,508.3h1.7M675.2,508.3h-1.7M509.9,506.8h1.7M675.2,506.8h-1.7M509.9,505.5h1.7M675.2,505.5h-1.7M509.9,496.5h1.7M675.2,496.5h-1.7M509.9,491.9h1.7M675.2,491.9h-1.7M509.9,488.6h1.7M675.2,488.6h-1.7M509.9,486.1h1.7M675.2,486.1h-1.7M509.9,484.1h1.7M675.2,484.1h-1.7M509.9,482.3h1.7M675.2,482.3h-1.7M509.9,480.8h1.7M675.2,480.8h-1.7M509.9,479.5h1.7M675.2,479.5h-1.7M509.9,470.5h1.7M675.2,470.5h-1.7M509.9,465.9h1.7M675.2,465.9h-1.7M509.9,462.6h1.7M675.2,462.6h-1.7M509.9,460.1h1.7M675.2,460.1h-1.7M509.9,458.1h1.7M675.2,458.1h-1.7M509.9,456.3h1.7M675.2,456.3h-1.7M509.9,454.8h1.7M675.2,454.8h-1.7M509.9,453.5h1.7M675.2,453.5h-1.7M509.9,444.5h1.7M675.2,444.5h-1.7M509.9,439.9h1.7M675.2,439.9h-1.7M509.9,436.6h1.7M675.2,436.6h-1.7M509.9,434.1h1.7M675.2,434.1h-1.7M509.9,432.1h1.7M675.2,432.1h-1.7M509.9,430.3h1.7M675.2,430.3h-1.7M509.9,428.8h1.7M675.2,428.8h-1.7M509.9,427.5h1.7M675.2,427.5h-1.7M509.9,504.3h2.8M675.2,504.3h-2.8M509.9,478.3h2.8M675.2,478.3h-2.8M509.9,452.3h2.8M675.2,452.3h-2.8M509.9,426.3h2.8M675.2,426.3h-2.8' stroke='#d0d0d0' stroke-width='0.8' fill='none'/>
<path d='M513.6,425.3 L523.8,425.2 L538.4,424.6 L550.1,423.9 L558.8,423.6 L564.7,423.9 L570.0,424.5 L578.5,426.9 L586.9,430.1 L595.4,434.3 L603.8,439.6 L612.3,443.8 L620.7,449.1 L629.2,456.9 L635.5,463.9 L640.8,472.3 L643.9,477.2 L647.1,478.7 L649.9,478.9 L652.0,478.0 L654.1,482.9 L657.0,487.1 L658.7,494.5 L660.9,501.3 L664.0,506.1 L666.1,509.3 L667.8,515.2 L669.3,509.7 L671.8,507.6' fill='none' stroke='#ea7680' stroke-width='1.3' stroke-linejoin='round' stroke-linecap='round'/>
<text x='507.00' y='432.60' text-anchor='end' fill='#828282' style='font-family:"Liberation Serif", "DejaVu Serif", serif;font-size:13.0px;letter-spacing:0.6px;' >10</text>
<text x='507.00' y='458.00' text-anchor='end' fill='#828282' style='font-family:"Liberation Serif", "DejaVu Serif", serif;font-size:13.0px;letter-spacing:0.6px;' >1</text>
<text x='507.00' y='481.10' text-anchor='end' fill='#828282' style='font-family:"Liberation Serif", "DejaVu Serif", serif;font-size:13.0px;letter-spacing:0.6px;' >0.10</text>
<text x='507.00' y='506.50' text-anchor='end' fill='#828282' style='font-family:"Liberation Serif", "DejaVu Serif", serif;font-size:13.0px;letter-spacing:0.6px;' >0.01</text>
<text x='541.10' y='536.70' text-anchor='middle' fill='#828282' style='font-family:"Liberation Serif", "DejaVu Serif", serif;font-size:12.9px;letter-spacing:1.0px;' >0.01</text>
<text x='606.80' y='536.70' text-anchor='middle' fill='#828282' style='font-family:"Liberation Serif", "DejaVu Serif", serif;font-size:12.9px;letter-spacing:1.0px;' >0.1</text>
<text x='673.00' y='536.90' text-anchor='middle' fill='#777' style='font-family:"Liberation Serif", "DejaVu Serif", serif;font-size:18px;' >1</text>
<text x='515.4' y='410.9' textLength='143.6' lengthAdjust='spacingAndGlyphs' style='font-family:"Liberation Sans", Arial, sans-serif;font-size:15.1px'>PSD, patient 20, <tspan style='font-family:"STIX Two Math", "Latin Modern Math", "DejaVu Math TeX Gyre", "Libertinus Math", "Noto Sans Math", "FreeSerif", "DejaVu Serif", "Liberation Serif", serif;font-size:15.4px'>𝒯</tspan> 3</text>
<text x='594.6' y='557.2' text-anchor='middle' style='font-family:"Liberation Serif", "DejaVu Serif", serif;font-size:17px'>k [µm<tspan dy='-5.5' style='font-size:10.5px'>-1</tspan><tspan dy='5.5'>]</tspan></text>
<text transform='translate(475.8,458.0) rotate(-90)' text-anchor='middle' style='font-family:"Liberation Serif", "DejaVu Serif", serif;font-size:13.6px;letter-spacing:0.3px'>P [µm<tspan dy='-4.5' style='font-size:9.5px'>3</tspan><tspan dy='4.5'>]</tspan></text>
</svg>
</body></html>
